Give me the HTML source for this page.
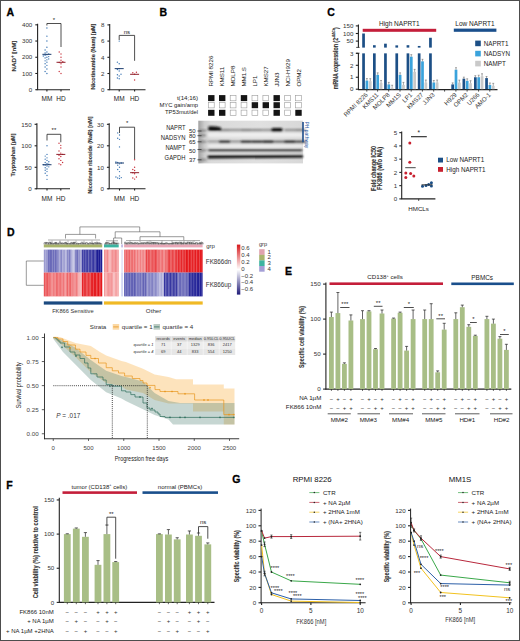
<!DOCTYPE html>
<html><head><meta charset="utf-8"><style>
html,body{margin:0;padding:0;background:#fff;}
svg{display:block;}
text{font-family:"Liberation Sans", sans-serif;}
</style></head><body>
<svg width="520" height="641" viewBox="0 0 520 641">
<rect x="0" y="0" width="520" height="641" fill="#fff"/>
<text x="6.50" y="15.80" font-size="10.5" text-anchor="start" fill="#000" font-weight="bold" stroke="#000" stroke-width="0.3">A</text>
<line x1="37.60" y1="23.82" x2="37.60" y2="89.70" stroke="#222" stroke-width="1.1"/>
<line x1="35.30" y1="89.70" x2="37.60" y2="89.70" stroke="#222" stroke-width="1.1"/>
<text x="32.30" y="91.90" font-size="6.2" text-anchor="end" fill="#333">0</text>
<line x1="35.30" y1="73.48" x2="37.60" y2="73.48" stroke="#222" stroke-width="1.1"/>
<text x="32.30" y="75.68" font-size="6.2" text-anchor="end" fill="#333">100</text>
<line x1="35.30" y1="57.26" x2="37.60" y2="57.26" stroke="#222" stroke-width="1.1"/>
<text x="32.30" y="59.46" font-size="6.2" text-anchor="end" fill="#333">200</text>
<line x1="35.30" y1="41.04" x2="37.60" y2="41.04" stroke="#222" stroke-width="1.1"/>
<text x="32.30" y="43.24" font-size="6.2" text-anchor="end" fill="#333">300</text>
<line x1="35.30" y1="24.82" x2="37.60" y2="24.82" stroke="#222" stroke-width="1.1"/>
<text x="32.30" y="27.02" font-size="6.2" text-anchor="end" fill="#333">400</text>
<line x1="36.60" y1="89.70" x2="70.00" y2="89.70" stroke="#222" stroke-width="1.1"/>
<line x1="46.90" y1="89.70" x2="46.90" y2="91.50" stroke="#222" stroke-width="1.1"/>
<line x1="61.00" y1="89.70" x2="61.00" y2="91.50" stroke="#222" stroke-width="1.1"/>
<text x="46.90" y="101.10" font-size="6.5" text-anchor="middle" fill="#222">MM</text>
<text x="61.00" y="101.10" font-size="6.5" text-anchor="middle" fill="#222">HD</text>
<circle cx="46.90" cy="73.48" r="0.7" fill="#3f78b5"/>
<circle cx="45.10" cy="71.53" r="0.7" fill="#3f78b5"/>
<circle cx="46.90" cy="68.94" r="0.7" fill="#3f78b5"/>
<circle cx="45.10" cy="66.99" r="0.7" fill="#3f78b5"/>
<circle cx="46.90" cy="65.37" r="0.7" fill="#3f78b5"/>
<circle cx="45.10" cy="63.75" r="0.7" fill="#3f78b5"/>
<circle cx="46.90" cy="62.13" r="0.7" fill="#3f78b5"/>
<circle cx="45.10" cy="60.83" r="0.7" fill="#3f78b5"/>
<circle cx="46.90" cy="59.86" r="0.7" fill="#3f78b5"/>
<circle cx="48.70" cy="58.88" r="0.7" fill="#3f78b5"/>
<circle cx="45.10" cy="57.91" r="0.7" fill="#3f78b5"/>
<circle cx="46.90" cy="57.26" r="0.7" fill="#3f78b5"/>
<circle cx="48.70" cy="56.61" r="0.7" fill="#3f78b5"/>
<circle cx="43.30" cy="55.96" r="0.7" fill="#3f78b5"/>
<circle cx="45.10" cy="55.31" r="0.7" fill="#3f78b5"/>
<circle cx="46.90" cy="54.66" r="0.7" fill="#3f78b5"/>
<circle cx="48.70" cy="53.85" r="0.7" fill="#3f78b5"/>
<circle cx="45.10" cy="53.04" r="0.7" fill="#3f78b5"/>
<circle cx="46.90" cy="52.07" r="0.7" fill="#3f78b5"/>
<circle cx="45.10" cy="49.96" r="0.7" fill="#3f78b5"/>
<circle cx="46.90" cy="47.20" r="0.7" fill="#3f78b5"/>
<circle cx="46.90" cy="41.04" r="0.7" fill="#3f78b5"/>
<circle cx="46.90" cy="36.17" r="0.7" fill="#3f78b5"/>
<circle cx="46.90" cy="28.06" r="0.7" fill="#3f78b5"/>
<circle cx="61.00" cy="73.48" r="0.7" fill="#c8323c"/>
<circle cx="59.20" cy="71.53" r="0.7" fill="#c8323c"/>
<circle cx="61.00" cy="66.99" r="0.7" fill="#c8323c"/>
<circle cx="61.00" cy="63.75" r="0.7" fill="#c8323c"/>
<circle cx="59.20" cy="62.45" r="0.7" fill="#c8323c"/>
<circle cx="62.80" cy="61.80" r="0.7" fill="#c8323c"/>
<circle cx="61.00" cy="60.18" r="0.7" fill="#c8323c"/>
<circle cx="61.00" cy="57.26" r="0.7" fill="#c8323c"/>
<circle cx="61.00" cy="54.02" r="0.7" fill="#c8323c"/>
<circle cx="59.20" cy="52.07" r="0.7" fill="#c8323c"/>
<line x1="42.40" y1="54.34" x2="51.40" y2="54.34" stroke="#1b3c6e" stroke-width="1.0"/>
<line x1="56.50" y1="62.29" x2="65.50" y2="62.29" stroke="#8e1d2a" stroke-width="1.0"/>
<polyline points="46.90,25.50 46.90,23.50 61.00,23.50 61.00,47.00" stroke="#222" stroke-width="0.8" fill="none"/>
<text x="53.95" y="21.50" font-size="6" text-anchor="middle" fill="#222">*</text>
<text x="15.90" y="56.00" font-size="6.2" text-anchor="middle" fill="#333" font-weight="bold" transform="rotate(-90 15.9 56)" stroke="#333" stroke-width="0.12">NAD<tspan font-size="4.5" dy="-2">+</tspan><tspan dy="2"> [nM]</tspan></text>
<line x1="109.70" y1="23.90" x2="109.70" y2="89.70" stroke="#222" stroke-width="1.1"/>
<line x1="107.40" y1="89.70" x2="109.70" y2="89.70" stroke="#222" stroke-width="1.1"/>
<text x="104.40" y="91.90" font-size="6.2" text-anchor="end" fill="#333">0</text>
<line x1="107.40" y1="73.50" x2="109.70" y2="73.50" stroke="#222" stroke-width="1.1"/>
<text x="104.40" y="75.70" font-size="6.2" text-anchor="end" fill="#333">2</text>
<line x1="107.40" y1="57.30" x2="109.70" y2="57.30" stroke="#222" stroke-width="1.1"/>
<text x="104.40" y="59.50" font-size="6.2" text-anchor="end" fill="#333">4</text>
<line x1="107.40" y1="41.10" x2="109.70" y2="41.10" stroke="#222" stroke-width="1.1"/>
<text x="104.40" y="43.30" font-size="6.2" text-anchor="end" fill="#333">6</text>
<line x1="107.40" y1="24.90" x2="109.70" y2="24.90" stroke="#222" stroke-width="1.1"/>
<text x="104.40" y="27.10" font-size="6.2" text-anchor="end" fill="#333">8</text>
<line x1="108.70" y1="89.70" x2="145.50" y2="89.70" stroke="#222" stroke-width="1.1"/>
<line x1="119.20" y1="89.70" x2="119.20" y2="91.50" stroke="#222" stroke-width="1.1"/>
<line x1="134.60" y1="89.70" x2="134.60" y2="91.50" stroke="#222" stroke-width="1.1"/>
<text x="119.20" y="101.10" font-size="6.5" text-anchor="middle" fill="#222">MM</text>
<text x="134.60" y="101.10" font-size="6.5" text-anchor="middle" fill="#222">HD</text>
<circle cx="119.20" cy="78.77" r="0.7" fill="#3f78b5"/>
<circle cx="117.40" cy="77.95" r="0.7" fill="#3f78b5"/>
<circle cx="119.20" cy="75.93" r="0.7" fill="#3f78b5"/>
<circle cx="117.40" cy="74.72" r="0.7" fill="#3f78b5"/>
<circle cx="121.00" cy="74.31" r="0.7" fill="#3f78b5"/>
<circle cx="119.20" cy="71.07" r="0.7" fill="#3f78b5"/>
<circle cx="117.40" cy="69.45" r="0.7" fill="#3f78b5"/>
<circle cx="119.20" cy="68.64" r="0.7" fill="#3f78b5"/>
<circle cx="119.20" cy="63.78" r="0.7" fill="#3f78b5"/>
<circle cx="117.40" cy="62.16" r="0.7" fill="#3f78b5"/>
<circle cx="119.20" cy="41.10" r="0.7" fill="#3f78b5"/>
<circle cx="134.60" cy="79.98" r="0.7" fill="#c8323c"/>
<circle cx="134.60" cy="74.31" r="0.7" fill="#c8323c"/>
<circle cx="132.80" cy="72.69" r="0.7" fill="#c8323c"/>
<circle cx="136.40" cy="72.28" r="0.7" fill="#c8323c"/>
<line x1="114.70" y1="68.64" x2="123.70" y2="68.64" stroke="#1b3c6e" stroke-width="1.0"/>
<line x1="130.10" y1="74.31" x2="139.10" y2="74.31" stroke="#8e1d2a" stroke-width="1.0"/>
<polyline points="119.20,40.00 119.20,35.40 134.60,35.40 134.60,60.80" stroke="#222" stroke-width="0.8" fill="none"/>
<text x="126.90" y="33.60" font-size="6" text-anchor="middle" fill="#222">ns</text>
<text x="94.70" y="56.50" font-size="6.2" text-anchor="middle" fill="#333" font-weight="bold" transform="rotate(-90 94.7 56.5)" textLength="66" lengthAdjust="spacingAndGlyphs" stroke="#333" stroke-width="0.12">Nicotinamide (Nam) [µM]</text>
<line x1="36.90" y1="123.30" x2="36.90" y2="188.80" stroke="#222" stroke-width="1.1"/>
<line x1="34.60" y1="188.80" x2="36.90" y2="188.80" stroke="#222" stroke-width="1.1"/>
<text x="31.60" y="191.00" font-size="6.2" text-anchor="end" fill="#333">0</text>
<line x1="34.60" y1="167.30" x2="36.90" y2="167.30" stroke="#222" stroke-width="1.1"/>
<text x="31.60" y="169.50" font-size="6.2" text-anchor="end" fill="#333">50</text>
<line x1="34.60" y1="145.80" x2="36.90" y2="145.80" stroke="#222" stroke-width="1.1"/>
<text x="31.60" y="148.00" font-size="6.2" text-anchor="end" fill="#333">100</text>
<line x1="34.60" y1="124.30" x2="36.90" y2="124.30" stroke="#222" stroke-width="1.1"/>
<text x="31.60" y="126.50" font-size="6.2" text-anchor="end" fill="#333">150</text>
<line x1="35.90" y1="188.80" x2="70.00" y2="188.80" stroke="#222" stroke-width="1.1"/>
<line x1="47.00" y1="188.80" x2="47.00" y2="190.60" stroke="#222" stroke-width="1.1"/>
<line x1="60.80" y1="188.80" x2="60.80" y2="190.60" stroke="#222" stroke-width="1.1"/>
<text x="47.00" y="200.50" font-size="6.5" text-anchor="middle" fill="#222">MM</text>
<text x="60.80" y="200.50" font-size="6.5" text-anchor="middle" fill="#222">HD</text>
<circle cx="47.00" cy="179.34" r="0.7" fill="#3f78b5"/>
<circle cx="47.00" cy="175.47" r="0.7" fill="#3f78b5"/>
<circle cx="45.20" cy="173.32" r="0.7" fill="#3f78b5"/>
<circle cx="47.00" cy="171.60" r="0.7" fill="#3f78b5"/>
<circle cx="45.20" cy="170.31" r="0.7" fill="#3f78b5"/>
<circle cx="47.00" cy="169.02" r="0.7" fill="#3f78b5"/>
<circle cx="45.20" cy="167.73" r="0.7" fill="#3f78b5"/>
<circle cx="48.80" cy="166.87" r="0.7" fill="#3f78b5"/>
<circle cx="47.00" cy="166.01" r="0.7" fill="#3f78b5"/>
<circle cx="45.20" cy="165.15" r="0.7" fill="#3f78b5"/>
<circle cx="43.40" cy="164.72" r="0.7" fill="#3f78b5"/>
<circle cx="48.80" cy="164.29" r="0.7" fill="#3f78b5"/>
<circle cx="47.00" cy="163.43" r="0.7" fill="#3f78b5"/>
<circle cx="45.20" cy="162.57" r="0.7" fill="#3f78b5"/>
<circle cx="48.80" cy="161.71" r="0.7" fill="#3f78b5"/>
<circle cx="47.00" cy="160.42" r="0.7" fill="#3f78b5"/>
<circle cx="45.20" cy="159.13" r="0.7" fill="#3f78b5"/>
<circle cx="47.00" cy="157.84" r="0.7" fill="#3f78b5"/>
<circle cx="45.20" cy="156.12" r="0.7" fill="#3f78b5"/>
<circle cx="47.00" cy="154.40" r="0.7" fill="#3f78b5"/>
<circle cx="47.00" cy="145.80" r="0.7" fill="#3f78b5"/>
<circle cx="60.80" cy="164.72" r="0.7" fill="#c8323c"/>
<circle cx="59.00" cy="163.86" r="0.7" fill="#c8323c"/>
<circle cx="62.60" cy="162.57" r="0.7" fill="#c8323c"/>
<circle cx="60.80" cy="160.42" r="0.7" fill="#c8323c"/>
<circle cx="59.00" cy="158.70" r="0.7" fill="#c8323c"/>
<circle cx="60.80" cy="156.55" r="0.7" fill="#c8323c"/>
<circle cx="59.00" cy="155.26" r="0.7" fill="#c8323c"/>
<circle cx="62.60" cy="154.40" r="0.7" fill="#c8323c"/>
<circle cx="60.80" cy="153.11" r="0.7" fill="#c8323c"/>
<circle cx="59.00" cy="150.96" r="0.7" fill="#c8323c"/>
<circle cx="60.80" cy="147.95" r="0.7" fill="#c8323c"/>
<circle cx="60.80" cy="145.37" r="0.7" fill="#c8323c"/>
<circle cx="59.00" cy="143.22" r="0.7" fill="#c8323c"/>
<line x1="42.50" y1="164.72" x2="51.50" y2="164.72" stroke="#1b3c6e" stroke-width="1.0"/>
<line x1="56.30" y1="154.40" x2="65.30" y2="154.40" stroke="#8e1d2a" stroke-width="1.0"/>
<polyline points="47.00,140.50 47.00,134.30 60.80,134.30 60.80,142.30" stroke="#222" stroke-width="0.8" fill="none"/>
<text x="53.90" y="131.60" font-size="6" text-anchor="middle" fill="#222">**</text>
<text x="15.40" y="155.00" font-size="6.2" text-anchor="middle" fill="#333" font-weight="bold" transform="rotate(-90 15.4 155)" textLength="43" lengthAdjust="spacingAndGlyphs" stroke="#333" stroke-width="0.12">Tryptophan [µM]</text>
<line x1="109.20" y1="123.30" x2="109.20" y2="188.80" stroke="#222" stroke-width="1.1"/>
<line x1="106.90" y1="188.80" x2="109.20" y2="188.80" stroke="#222" stroke-width="1.1"/>
<text x="103.90" y="191.00" font-size="6.2" text-anchor="end" fill="#333">0</text>
<line x1="106.90" y1="167.30" x2="109.20" y2="167.30" stroke="#222" stroke-width="1.1"/>
<text x="103.90" y="169.50" font-size="6.2" text-anchor="end" fill="#333">10</text>
<line x1="106.90" y1="145.80" x2="109.20" y2="145.80" stroke="#222" stroke-width="1.1"/>
<text x="103.90" y="148.00" font-size="6.2" text-anchor="end" fill="#333">20</text>
<line x1="106.90" y1="124.30" x2="109.20" y2="124.30" stroke="#222" stroke-width="1.1"/>
<text x="103.90" y="126.50" font-size="6.2" text-anchor="end" fill="#333">30</text>
<line x1="108.20" y1="188.80" x2="145.50" y2="188.80" stroke="#222" stroke-width="1.1"/>
<line x1="119.50" y1="188.80" x2="119.50" y2="190.60" stroke="#222" stroke-width="1.1"/>
<line x1="134.60" y1="188.80" x2="134.60" y2="190.60" stroke="#222" stroke-width="1.1"/>
<text x="119.50" y="200.50" font-size="6.5" text-anchor="middle" fill="#222">MM</text>
<text x="134.60" y="200.50" font-size="6.5" text-anchor="middle" fill="#222">HD</text>
<circle cx="119.50" cy="178.48" r="0.7" fill="#3f78b5"/>
<circle cx="117.70" cy="178.05" r="0.7" fill="#3f78b5"/>
<circle cx="121.30" cy="177.62" r="0.7" fill="#3f78b5"/>
<circle cx="115.90" cy="176.98" r="0.7" fill="#3f78b5"/>
<circle cx="119.50" cy="175.90" r="0.7" fill="#3f78b5"/>
<circle cx="119.50" cy="171.60" r="0.7" fill="#3f78b5"/>
<circle cx="117.70" cy="169.45" r="0.7" fill="#3f78b5"/>
<circle cx="119.50" cy="167.30" r="0.7" fill="#3f78b5"/>
<circle cx="117.70" cy="165.15" r="0.7" fill="#3f78b5"/>
<circle cx="119.50" cy="163.86" r="0.7" fill="#3f78b5"/>
<circle cx="121.30" cy="163.00" r="0.7" fill="#3f78b5"/>
<circle cx="117.70" cy="162.57" r="0.7" fill="#3f78b5"/>
<circle cx="115.90" cy="161.93" r="0.7" fill="#3f78b5"/>
<circle cx="119.50" cy="146.88" r="0.7" fill="#3f78b5"/>
<circle cx="119.50" cy="139.35" r="0.7" fill="#3f78b5"/>
<circle cx="117.70" cy="138.28" r="0.7" fill="#3f78b5"/>
<circle cx="119.50" cy="135.05" r="0.7" fill="#3f78b5"/>
<circle cx="117.70" cy="132.90" r="0.7" fill="#3f78b5"/>
<circle cx="134.60" cy="179.12" r="0.7" fill="#c8323c"/>
<circle cx="132.80" cy="178.05" r="0.7" fill="#c8323c"/>
<circle cx="136.40" cy="176.98" r="0.7" fill="#c8323c"/>
<circle cx="134.60" cy="173.75" r="0.7" fill="#c8323c"/>
<circle cx="132.80" cy="172.68" r="0.7" fill="#c8323c"/>
<circle cx="134.60" cy="170.53" r="0.7" fill="#c8323c"/>
<circle cx="132.80" cy="169.45" r="0.7" fill="#c8323c"/>
<circle cx="134.60" cy="167.30" r="0.7" fill="#c8323c"/>
<circle cx="134.60" cy="159.78" r="0.7" fill="#c8323c"/>
<line x1="115.00" y1="163.00" x2="124.00" y2="163.00" stroke="#1b3c6e" stroke-width="1.0"/>
<line x1="130.10" y1="172.68" x2="139.10" y2="172.68" stroke="#8e1d2a" stroke-width="1.0"/>
<polyline points="119.50,133.00 119.50,127.20 134.60,127.20 134.60,159.00" stroke="#222" stroke-width="0.8" fill="none"/>
<text x="127.05" y="124.60" font-size="6" text-anchor="middle" fill="#222">*</text>
<text x="92.10" y="155.00" font-size="6.2" text-anchor="middle" fill="#333" font-weight="bold" transform="rotate(-90 92.10000000000001 155)" textLength="77" lengthAdjust="spacingAndGlyphs" stroke="#333" stroke-width="0.12">Nicotinate riboside (NaR) [nM]</text>
<text x="159.60" y="16.20" font-size="10.5" text-anchor="start" fill="#000" font-weight="bold" stroke="#000" stroke-width="0.3">B</text>
<text x="213.40" y="86.60" font-size="6.2" text-anchor="start" fill="#222" transform="rotate(-90 213.39999999999998 86.6)">RPMI 8226</text>
<text x="224.30" y="86.60" font-size="6.2" text-anchor="start" fill="#222" transform="rotate(-90 224.29999999999998 86.6)">KMS11</text>
<text x="235.20" y="86.60" font-size="6.2" text-anchor="start" fill="#222" transform="rotate(-90 235.2 86.6)">MOLP8</text>
<text x="246.10" y="86.60" font-size="6.2" text-anchor="start" fill="#222" transform="rotate(-90 246.1 86.6)">MM1.S</text>
<text x="257.00" y="86.60" font-size="6.2" text-anchor="start" fill="#222" transform="rotate(-90 257.0 86.6)">LP1</text>
<text x="267.90" y="86.60" font-size="6.2" text-anchor="start" fill="#222" transform="rotate(-90 267.90000000000003 86.6)">KMS27</text>
<text x="278.80" y="86.60" font-size="6.2" text-anchor="start" fill="#222" transform="rotate(-90 278.8 86.6)">JJN3</text>
<text x="289.70" y="86.60" font-size="6.2" text-anchor="start" fill="#222" transform="rotate(-90 289.7 86.6)">NCI-H929</text>
<text x="300.60" y="86.60" font-size="6.2" text-anchor="start" fill="#222" transform="rotate(-90 300.6 86.6)">OPM2</text>
<text x="198.10" y="100.00" font-size="6.2" text-anchor="end" fill="#222" textLength="21.2" lengthAdjust="spacingAndGlyphs">t(14;16)</text>
<rect x="208.10" y="95.10" width="6.40" height="6.00" fill="#151515"/>
<rect x="219.00" y="95.10" width="6.40" height="6.00" fill="#151515"/>
<rect x="230.20" y="95.40" width="5.80" height="5.40" fill="#fff" stroke="#9a9a9a" stroke-width="0.6"/>
<rect x="240.80" y="95.10" width="6.40" height="6.00" fill="#151515"/>
<rect x="252.00" y="95.40" width="5.80" height="5.40" fill="#fff" stroke="#9a9a9a" stroke-width="0.6"/>
<rect x="262.90" y="95.40" width="5.80" height="5.40" fill="#fff" stroke="#9a9a9a" stroke-width="0.6"/>
<rect x="273.50" y="95.10" width="6.40" height="6.00" fill="#151515"/>
<rect x="284.70" y="95.40" width="5.80" height="5.40" fill="#fff" stroke="#9a9a9a" stroke-width="0.6"/>
<rect x="295.60" y="95.40" width="5.80" height="5.40" fill="#fff" stroke="#9a9a9a" stroke-width="0.6"/>
<text x="198.10" y="107.40" font-size="6.2" text-anchor="end" fill="#222" textLength="38.7" lengthAdjust="spacingAndGlyphs">MYC gain/amp</text>
<rect x="208.40" y="102.50" width="5.80" height="5.40" fill="#fff" stroke="#9a9a9a" stroke-width="0.6"/>
<rect x="219.30" y="102.50" width="5.80" height="5.40" fill="#fff" stroke="#9a9a9a" stroke-width="0.6"/>
<rect x="230.20" y="102.50" width="5.80" height="5.40" fill="#fff" stroke="#9a9a9a" stroke-width="0.6"/>
<rect x="241.10" y="102.50" width="5.80" height="5.40" fill="#fff" stroke="#9a9a9a" stroke-width="0.6"/>
<rect x="251.70" y="102.20" width="6.40" height="6.00" fill="#151515"/>
<rect x="262.60" y="102.20" width="6.40" height="6.00" fill="#151515"/>
<rect x="273.50" y="102.20" width="6.40" height="6.00" fill="#151515"/>
<rect x="284.70" y="102.50" width="5.80" height="5.40" fill="#fff" stroke="#9a9a9a" stroke-width="0.6"/>
<rect x="295.60" y="102.50" width="5.80" height="5.40" fill="#fff" stroke="#9a9a9a" stroke-width="0.6"/>
<text x="198.10" y="114.40" font-size="6.2" text-anchor="end" fill="#222" textLength="33.1" lengthAdjust="spacingAndGlyphs">TP53mut/del</text>
<rect x="208.10" y="109.80" width="6.40" height="6.00" fill="#151515"/>
<rect x="219.00" y="109.80" width="6.40" height="6.00" fill="#151515"/>
<rect x="230.20" y="110.10" width="5.80" height="5.40" fill="#fff" stroke="#9a9a9a" stroke-width="0.6"/>
<rect x="241.10" y="110.10" width="5.80" height="5.40" fill="#fff" stroke="#9a9a9a" stroke-width="0.6"/>
<rect x="252.00" y="110.10" width="5.80" height="5.40" fill="#fff" stroke="#9a9a9a" stroke-width="0.6"/>
<rect x="262.90" y="110.10" width="5.80" height="5.40" fill="#fff" stroke="#9a9a9a" stroke-width="0.6"/>
<rect x="273.50" y="109.80" width="6.40" height="6.00" fill="#151515"/>
<rect x="284.70" y="110.10" width="5.80" height="5.40" fill="#fff" stroke="#9a9a9a" stroke-width="0.6"/>
<rect x="295.30" y="109.80" width="6.40" height="6.00" fill="#151515"/>
<defs><linearGradient id="blotbg" x1="0" y1="0" x2="1" y2="0"><stop offset="0" stop-color="#a0a0a0"/><stop offset="0.06" stop-color="#cdcdcd"/><stop offset="0.12" stop-color="#dadada"/><stop offset="0.6" stop-color="#e0e0e0"/><stop offset="1" stop-color="#d8d8d8"/></linearGradient><filter id="bl" x="-5%" y="-30%" width="110%" height="160%"><feGaussianBlur stdDeviation="0.85"/></filter></defs>
<rect x="198.30" y="120.70" width="104.70" height="42.70" fill="url(#blotbg)"/>
<g filter="url(#bl)">
<rect x="207.50" y="132.60" width="95.50" height="4.50" fill="#f2f2f2" opacity="0.8"/>
<rect x="207.50" y="144.60" width="95.50" height="2.60" fill="#f4f4f4" opacity="0.8"/>
<rect x="207.50" y="152.20" width="95.50" height="1.80" fill="#f0f0f0" opacity="0.6"/>
<rect x="199.50" y="130.00" width="7.00" height="1.20" fill="#333" opacity="0.7"/>
<rect x="199.50" y="134.80" width="7.00" height="1.20" fill="#333" opacity="0.7"/>
<rect x="199.50" y="141.20" width="7.00" height="1.20" fill="#333" opacity="0.7"/>
<rect x="199.50" y="149.80" width="7.00" height="1.20" fill="#333" opacity="0.7"/>
<rect x="199.50" y="159.20" width="7.00" height="1.20" fill="#333" opacity="0.7"/>
<rect x="208.30" y="129.20" width="10.80" height="2.40" fill="#1a1a1a" opacity="0.0"/>
<rect x="219.15" y="129.20" width="10.80" height="2.40" fill="#1a1a1a" opacity="0.5"/>
<rect x="230.00" y="129.20" width="10.80" height="2.40" fill="#1a1a1a" opacity="0.45"/>
<rect x="240.85" y="129.20" width="10.80" height="2.40" fill="#1a1a1a" opacity="0.55"/>
<rect x="251.70" y="129.20" width="10.80" height="2.40" fill="#1a1a1a" opacity="0.5"/>
<rect x="262.55" y="129.20" width="10.80" height="2.40" fill="#1a1a1a" opacity="0.45"/>
<rect x="273.40" y="129.20" width="10.80" height="2.40" fill="#1a1a1a" opacity="0.0"/>
<rect x="284.25" y="129.20" width="10.80" height="2.40" fill="#1a1a1a" opacity="0.45"/>
<rect x="295.10" y="129.20" width="10.80" height="2.40" fill="#1a1a1a" opacity="0.5"/>
<path d="M208.3,126.4 Q214,125.8 221,127.6 L221,130.4 Q214,131.2 208.3,130.8 Z" fill="#111"/>
<rect x="271.40" y="128.00" width="11.20" height="4.00" fill="#111" rx="1.6"/>
<rect x="208.30" y="140.50" width="10.80" height="2.80" fill="#1a1a1a" opacity="0.3"/>
<rect x="219.15" y="140.50" width="10.80" height="2.80" fill="#1a1a1a" opacity="0.85"/>
<rect x="230.00" y="140.50" width="10.80" height="2.80" fill="#1a1a1a" opacity="0.35"/>
<rect x="240.85" y="140.50" width="10.80" height="2.80" fill="#1a1a1a" opacity="0.85"/>
<rect x="251.70" y="140.50" width="10.80" height="2.80" fill="#1a1a1a" opacity="0.85"/>
<rect x="262.55" y="140.50" width="10.80" height="2.80" fill="#1a1a1a" opacity="0.95"/>
<rect x="273.40" y="140.50" width="10.80" height="2.80" fill="#1a1a1a" opacity="0.55"/>
<rect x="284.25" y="140.50" width="10.80" height="2.80" fill="#1a1a1a" opacity="0.9"/>
<rect x="295.10" y="140.50" width="10.80" height="2.80" fill="#1a1a1a" opacity="0.7"/>
<rect x="208.30" y="149.10" width="94.00" height="2.80" fill="#141414" opacity="0.85"/>
<path d="M207.8,155.0 L303,154.6 L303,157.8 L207.8,158.5 Z" fill="#0c0c0c" opacity="0.95"/>
</g>
<text x="185.40" y="129.60" font-size="6.4" text-anchor="end" fill="#222" textLength="19.2" lengthAdjust="spacingAndGlyphs">NAPRT</text>
<text x="185.40" y="139.60" font-size="6.4" text-anchor="end" fill="#222" textLength="24.6" lengthAdjust="spacingAndGlyphs">NADSYN</text>
<text x="185.40" y="149.60" font-size="6.4" text-anchor="end" fill="#222" textLength="20.0" lengthAdjust="spacingAndGlyphs">NAMPT</text>
<text x="185.40" y="159.60" font-size="6.4" text-anchor="end" fill="#222" textLength="20.8" lengthAdjust="spacingAndGlyphs">GAPDH</text>
<text x="189.00" y="132.70" font-size="6.0" text-anchor="start" fill="#222">50</text>
<line x1="197.50" y1="131.00" x2="201.50" y2="131.00" stroke="#333" stroke-width="0.8"/>
<text x="189.00" y="138.10" font-size="6.0" text-anchor="start" fill="#222">80</text>
<line x1="197.50" y1="135.70" x2="201.50" y2="135.70" stroke="#333" stroke-width="0.8"/>
<text x="189.00" y="144.30" font-size="6.0" text-anchor="start" fill="#222">65</text>
<line x1="197.50" y1="141.80" x2="201.50" y2="141.80" stroke="#333" stroke-width="0.8"/>
<text x="189.00" y="152.70" font-size="6.0" text-anchor="start" fill="#222">50</text>
<line x1="197.50" y1="149.50" x2="201.50" y2="149.50" stroke="#333" stroke-width="0.8"/>
<text x="189.00" y="161.90" font-size="6.0" text-anchor="start" fill="#222">37</text>
<line x1="197.50" y1="159.80" x2="201.50" y2="159.80" stroke="#333" stroke-width="0.8"/>
<rect x="302.20" y="122.00" width="1.60" height="20.30" fill="#1f4e8c"/>
<text x="305.00" y="121.40" font-size="5.0" text-anchor="start" fill="#3464a8" transform="rotate(90 305.0 121.4)">PH pathway</text>
<text x="327.30" y="15.60" font-size="10.5" text-anchor="start" fill="#000" font-weight="bold" stroke="#000" stroke-width="0.3">C</text>
<line x1="358.40" y1="24.40" x2="358.40" y2="47.40" stroke="#222" stroke-width="1.1"/>
<line x1="358.40" y1="53.00" x2="358.40" y2="89.60" stroke="#222" stroke-width="1.1"/>
<line x1="356.20" y1="47.40" x2="359.60" y2="47.40" stroke="#222" stroke-width="0.8"/>
<line x1="356.20" y1="53.20" x2="359.60" y2="53.20" stroke="#222" stroke-width="0.8"/>
<line x1="355.80" y1="41.10" x2="358.40" y2="41.10" stroke="#222" stroke-width="1.1"/>
<text x="353.40" y="43.30" font-size="6.2" text-anchor="end" fill="#333">50</text>
<line x1="355.80" y1="33.50" x2="358.40" y2="33.50" stroke="#222" stroke-width="1.1"/>
<text x="353.40" y="35.70" font-size="6.2" text-anchor="end" fill="#333">100</text>
<line x1="355.80" y1="25.90" x2="358.40" y2="25.90" stroke="#222" stroke-width="1.1"/>
<text x="353.40" y="28.10" font-size="6.2" text-anchor="end" fill="#333">150</text>
<line x1="355.80" y1="89.20" x2="358.40" y2="89.20" stroke="#222" stroke-width="1.1"/>
<text x="353.40" y="91.40" font-size="6.2" text-anchor="end" fill="#333">0</text>
<line x1="355.80" y1="77.25" x2="358.40" y2="77.25" stroke="#222" stroke-width="1.1"/>
<text x="353.40" y="79.45" font-size="6.2" text-anchor="end" fill="#333">1</text>
<line x1="355.80" y1="65.30" x2="358.40" y2="65.30" stroke="#222" stroke-width="1.1"/>
<text x="353.40" y="67.50" font-size="6.2" text-anchor="end" fill="#333">2</text>
<line x1="355.80" y1="53.35" x2="358.40" y2="53.35" stroke="#222" stroke-width="1.1"/>
<text x="353.40" y="55.55" font-size="6.2" text-anchor="end" fill="#333">3</text>
<text x="337.60" y="58.30" font-size="6.4" text-anchor="middle" fill="#333" font-weight="bold" transform="rotate(-90 337.6 58.3)" textLength="62" lengthAdjust="spacingAndGlyphs" stroke="#333" stroke-width="0.12">mRNA expression (2<tspan font-size="3.8" dy="-2.2">-ΔΔCt</tspan><tspan dy="2.2">)</tspan></text>
<line x1="358.00" y1="89.60" x2="497.50" y2="89.60" stroke="#222" stroke-width="1.1"/>
<line x1="444.60" y1="89.60" x2="444.60" y2="91.60" stroke="#222" stroke-width="0.8"/>
<rect x="362.20" y="53.35" width="2.70" height="35.85" fill="#1c4f86"/>
<rect x="362.20" y="33.50" width="2.70" height="14.10" fill="#1c4f86"/>
<rect x="365.55" y="80.60" width="2.70" height="8.60" fill="#3aa3dc"/>
<line x1="366.90" y1="78.56" x2="366.90" y2="80.60" stroke="#555" stroke-width="0.5"/>
<line x1="365.95" y1="78.56" x2="367.85" y2="78.56" stroke="#555" stroke-width="0.5"/>
<rect x="368.90" y="81.19" width="2.70" height="8.01" fill="#c9c9c9"/>
<line x1="370.25" y1="78.68" x2="370.25" y2="81.19" stroke="#555" stroke-width="0.5"/>
<line x1="369.30" y1="78.68" x2="371.20" y2="78.68" stroke="#555" stroke-width="0.5"/>
<line x1="366.80" y1="89.60" x2="366.80" y2="91.60" stroke="#222" stroke-width="0.8"/>
<text x="368.20" y="95.20" font-size="6.2" text-anchor="end" fill="#333" transform="rotate(-45 368.2 95.2)">RPMI 8226</text>
<rect x="373.00" y="53.35" width="2.70" height="35.85" fill="#1c4f86"/>
<rect x="373.00" y="45.20" width="2.70" height="2.40" fill="#1c4f86"/>
<rect x="376.35" y="74.86" width="2.70" height="14.34" fill="#3aa3dc"/>
<line x1="377.70" y1="72.83" x2="377.70" y2="74.86" stroke="#555" stroke-width="0.5"/>
<line x1="376.75" y1="72.83" x2="378.65" y2="72.83" stroke="#555" stroke-width="0.5"/>
<rect x="379.70" y="82.99" width="2.70" height="6.21" fill="#c9c9c9"/>
<line x1="381.05" y1="80.47" x2="381.05" y2="82.99" stroke="#555" stroke-width="0.5"/>
<line x1="380.10" y1="80.47" x2="382.00" y2="80.47" stroke="#555" stroke-width="0.5"/>
<line x1="377.60" y1="89.60" x2="377.60" y2="91.60" stroke="#222" stroke-width="0.8"/>
<text x="379.00" y="95.20" font-size="6.2" text-anchor="end" fill="#333" transform="rotate(-45 379.0 95.2)">KMS11</text>
<rect x="384.10" y="53.35" width="2.70" height="35.85" fill="#1c4f86"/>
<rect x="384.10" y="43.68" width="2.70" height="3.92" fill="#1c4f86"/>
<rect x="387.45" y="84.42" width="2.70" height="4.78" fill="#3aa3dc"/>
<line x1="388.80" y1="82.39" x2="388.80" y2="84.42" stroke="#555" stroke-width="0.5"/>
<line x1="387.85" y1="82.39" x2="389.75" y2="82.39" stroke="#555" stroke-width="0.5"/>
<rect x="390.80" y="87.77" width="2.70" height="1.43" fill="#c9c9c9"/>
<line x1="392.15" y1="85.25" x2="392.15" y2="87.77" stroke="#555" stroke-width="0.5"/>
<line x1="391.20" y1="85.25" x2="393.10" y2="85.25" stroke="#555" stroke-width="0.5"/>
<line x1="388.70" y1="89.60" x2="388.70" y2="91.60" stroke="#222" stroke-width="0.8"/>
<text x="390.10" y="95.20" font-size="6.2" text-anchor="end" fill="#333" transform="rotate(-45 390.1 95.2)">MOLP8</text>
<rect x="395.40" y="53.35" width="2.70" height="35.85" fill="#1c4f86"/>
<rect x="395.40" y="45.36" width="2.70" height="2.24" fill="#1c4f86"/>
<rect x="398.75" y="74.86" width="2.70" height="14.34" fill="#3aa3dc"/>
<line x1="400.10" y1="72.83" x2="400.10" y2="74.86" stroke="#555" stroke-width="0.5"/>
<line x1="399.15" y1="72.83" x2="401.05" y2="72.83" stroke="#555" stroke-width="0.5"/>
<rect x="402.10" y="84.90" width="2.70" height="4.30" fill="#c9c9c9"/>
<line x1="403.45" y1="82.39" x2="403.45" y2="84.90" stroke="#555" stroke-width="0.5"/>
<line x1="402.50" y1="82.39" x2="404.40" y2="82.39" stroke="#555" stroke-width="0.5"/>
<line x1="400.00" y1="89.60" x2="400.00" y2="91.60" stroke="#222" stroke-width="0.8"/>
<text x="401.40" y="95.20" font-size="6.2" text-anchor="end" fill="#333" transform="rotate(-45 401.4 95.2)">MM1S</text>
<rect x="406.60" y="53.35" width="2.70" height="35.85" fill="#1c4f86"/>
<rect x="406.60" y="45.20" width="2.70" height="2.40" fill="#1c4f86"/>
<rect x="409.95" y="56.70" width="2.70" height="32.50" fill="#3aa3dc"/>
<line x1="411.30" y1="54.66" x2="411.30" y2="56.70" stroke="#555" stroke-width="0.5"/>
<line x1="410.35" y1="54.66" x2="412.25" y2="54.66" stroke="#555" stroke-width="0.5"/>
<rect x="413.30" y="71.87" width="2.70" height="17.33" fill="#c9c9c9"/>
<line x1="414.65" y1="69.36" x2="414.65" y2="71.87" stroke="#555" stroke-width="0.5"/>
<line x1="413.70" y1="69.36" x2="415.60" y2="69.36" stroke="#555" stroke-width="0.5"/>
<line x1="411.20" y1="89.60" x2="411.20" y2="91.60" stroke="#222" stroke-width="0.8"/>
<text x="412.60" y="95.20" font-size="6.2" text-anchor="end" fill="#333" transform="rotate(-45 412.6 95.2)">LP1</text>
<rect x="417.80" y="53.35" width="2.70" height="35.85" fill="#1c4f86"/>
<rect x="417.80" y="45.96" width="2.70" height="1.64" fill="#1c4f86"/>
<rect x="421.15" y="61.36" width="2.70" height="27.84" fill="#3aa3dc"/>
<line x1="422.50" y1="59.32" x2="422.50" y2="61.36" stroke="#555" stroke-width="0.5"/>
<line x1="421.55" y1="59.32" x2="423.45" y2="59.32" stroke="#555" stroke-width="0.5"/>
<rect x="424.50" y="82.51" width="2.70" height="6.69" fill="#c9c9c9"/>
<line x1="425.85" y1="80.00" x2="425.85" y2="82.51" stroke="#555" stroke-width="0.5"/>
<line x1="424.90" y1="80.00" x2="426.80" y2="80.00" stroke="#555" stroke-width="0.5"/>
<line x1="422.40" y1="89.60" x2="422.40" y2="91.60" stroke="#222" stroke-width="0.8"/>
<text x="423.80" y="95.20" font-size="6.2" text-anchor="end" fill="#333" transform="rotate(-45 423.8 95.2)">KMS27</text>
<rect x="429.10" y="53.35" width="2.70" height="35.85" fill="#1c4f86"/>
<rect x="429.10" y="37.76" width="2.70" height="9.84" fill="#1c4f86"/>
<rect x="432.45" y="82.51" width="2.70" height="6.69" fill="#3aa3dc"/>
<line x1="433.80" y1="80.47" x2="433.80" y2="82.51" stroke="#555" stroke-width="0.5"/>
<line x1="432.85" y1="80.47" x2="434.75" y2="80.47" stroke="#555" stroke-width="0.5"/>
<rect x="435.80" y="82.51" width="2.70" height="6.69" fill="#c9c9c9"/>
<line x1="437.15" y1="80.00" x2="437.15" y2="82.51" stroke="#555" stroke-width="0.5"/>
<line x1="436.20" y1="80.00" x2="438.10" y2="80.00" stroke="#555" stroke-width="0.5"/>
<line x1="433.70" y1="89.60" x2="433.70" y2="91.60" stroke="#222" stroke-width="0.8"/>
<text x="435.10" y="95.20" font-size="6.2" text-anchor="end" fill="#333" transform="rotate(-45 435.1 95.2)">JJN3</text>
<rect x="451.30" y="84.42" width="2.70" height="4.78" fill="#1c4f86"/>
<line x1="452.65" y1="82.86" x2="452.65" y2="84.42" stroke="#555" stroke-width="0.5"/>
<line x1="451.70" y1="82.86" x2="453.60" y2="82.86" stroke="#555" stroke-width="0.5"/>
<rect x="454.65" y="69.72" width="2.70" height="19.48" fill="#3aa3dc"/>
<line x1="456.00" y1="67.69" x2="456.00" y2="69.72" stroke="#555" stroke-width="0.5"/>
<line x1="455.05" y1="67.69" x2="456.95" y2="67.69" stroke="#555" stroke-width="0.5"/>
<rect x="458.00" y="82.63" width="2.70" height="6.57" fill="#c9c9c9"/>
<line x1="459.35" y1="80.12" x2="459.35" y2="82.63" stroke="#555" stroke-width="0.5"/>
<line x1="458.40" y1="80.12" x2="460.30" y2="80.12" stroke="#555" stroke-width="0.5"/>
<line x1="455.90" y1="89.60" x2="455.90" y2="91.60" stroke="#222" stroke-width="0.8"/>
<text x="457.30" y="95.20" font-size="6.2" text-anchor="end" fill="#333" transform="rotate(-45 457.3 95.2)">H929</text>
<rect x="462.50" y="78.68" width="2.70" height="10.52" fill="#1c4f86"/>
<line x1="463.85" y1="77.13" x2="463.85" y2="78.68" stroke="#555" stroke-width="0.5"/>
<line x1="462.90" y1="77.13" x2="464.80" y2="77.13" stroke="#555" stroke-width="0.5"/>
<rect x="465.85" y="80.84" width="2.70" height="8.36" fill="#3aa3dc"/>
<line x1="467.20" y1="78.80" x2="467.20" y2="80.84" stroke="#555" stroke-width="0.5"/>
<line x1="466.25" y1="78.80" x2="468.15" y2="78.80" stroke="#555" stroke-width="0.5"/>
<rect x="469.20" y="83.23" width="2.70" height="5.97" fill="#c9c9c9"/>
<line x1="470.55" y1="80.71" x2="470.55" y2="83.23" stroke="#555" stroke-width="0.5"/>
<line x1="469.60" y1="80.71" x2="471.50" y2="80.71" stroke="#555" stroke-width="0.5"/>
<line x1="467.10" y1="89.60" x2="467.10" y2="91.60" stroke="#222" stroke-width="0.8"/>
<text x="468.50" y="95.20" font-size="6.2" text-anchor="end" fill="#333" transform="rotate(-45 468.5 95.2)">OPM2</text>
<rect x="474.00" y="77.25" width="2.70" height="11.95" fill="#1c4f86"/>
<line x1="475.35" y1="75.69" x2="475.35" y2="77.25" stroke="#555" stroke-width="0.5"/>
<line x1="474.40" y1="75.69" x2="476.30" y2="75.69" stroke="#555" stroke-width="0.5"/>
<rect x="477.35" y="77.25" width="2.70" height="11.95" fill="#3aa3dc"/>
<line x1="478.70" y1="75.22" x2="478.70" y2="77.25" stroke="#555" stroke-width="0.5"/>
<line x1="477.75" y1="75.22" x2="479.65" y2="75.22" stroke="#555" stroke-width="0.5"/>
<rect x="480.70" y="76.29" width="2.70" height="12.91" fill="#c9c9c9"/>
<line x1="482.05" y1="73.78" x2="482.05" y2="76.29" stroke="#555" stroke-width="0.5"/>
<line x1="481.10" y1="73.78" x2="483.00" y2="73.78" stroke="#555" stroke-width="0.5"/>
<line x1="478.60" y1="89.60" x2="478.60" y2="91.60" stroke="#222" stroke-width="0.8"/>
<text x="480.00" y="95.20" font-size="6.2" text-anchor="end" fill="#333" transform="rotate(-45 480.0 95.2)">U266</text>
<rect x="485.20" y="78.09" width="2.70" height="11.11" fill="#1c4f86"/>
<line x1="486.55" y1="76.53" x2="486.55" y2="78.09" stroke="#555" stroke-width="0.5"/>
<line x1="485.60" y1="76.53" x2="487.50" y2="76.53" stroke="#555" stroke-width="0.5"/>
<rect x="488.55" y="85.02" width="2.70" height="4.18" fill="#3aa3dc"/>
<line x1="489.90" y1="82.98" x2="489.90" y2="85.02" stroke="#555" stroke-width="0.5"/>
<line x1="488.95" y1="82.98" x2="490.85" y2="82.98" stroke="#555" stroke-width="0.5"/>
<rect x="491.90" y="85.85" width="2.70" height="3.35" fill="#c9c9c9"/>
<line x1="493.25" y1="83.34" x2="493.25" y2="85.85" stroke="#555" stroke-width="0.5"/>
<line x1="492.30" y1="83.34" x2="494.20" y2="83.34" stroke="#555" stroke-width="0.5"/>
<line x1="489.80" y1="89.60" x2="489.80" y2="91.60" stroke="#222" stroke-width="0.8"/>
<text x="491.20" y="95.20" font-size="6.2" text-anchor="end" fill="#333" transform="rotate(-45 491.2 95.2)">AMO-1</text>
<rect x="362.70" y="28.80" width="73.50" height="3.00" fill="#c41e3a"/>
<rect x="453.80" y="28.60" width="42.60" height="3.20" fill="#1a4f8c"/>
<text x="399.30" y="25.80" font-size="6.5" text-anchor="middle" fill="#222">High NAPRT1</text>
<text x="475.00" y="25.80" font-size="6.5" text-anchor="middle" fill="#222">Low NAPRT1</text>
<rect x="475.20" y="40.60" width="5.60" height="5.60" fill="#1c4f86"/>
<text x="483.70" y="45.60" font-size="6.3" text-anchor="start" fill="#222">NAPRT1</text>
<rect x="475.20" y="50.80" width="5.60" height="5.60" fill="#3aa3dc"/>
<text x="483.70" y="55.80" font-size="6.3" text-anchor="start" fill="#222">NADSYN</text>
<rect x="475.20" y="60.80" width="5.60" height="5.60" fill="#c9c9c9"/>
<text x="483.70" y="65.80" font-size="6.3" text-anchor="start" fill="#222">NAMPT</text>
<line x1="401.70" y1="131.50" x2="401.70" y2="198.90" stroke="#222" stroke-width="1.1"/>
<line x1="399.30" y1="198.90" x2="401.70" y2="198.90" stroke="#222" stroke-width="1.1"/>
<text x="397.10" y="201.10" font-size="6.2" text-anchor="end" fill="#333">0</text>
<line x1="399.30" y1="185.65" x2="401.70" y2="185.65" stroke="#222" stroke-width="1.1"/>
<text x="397.10" y="187.85" font-size="6.2" text-anchor="end" fill="#333">1</text>
<line x1="399.30" y1="172.40" x2="401.70" y2="172.40" stroke="#222" stroke-width="1.1"/>
<text x="397.10" y="174.60" font-size="6.2" text-anchor="end" fill="#333">2</text>
<line x1="399.30" y1="159.15" x2="401.70" y2="159.15" stroke="#222" stroke-width="1.1"/>
<text x="397.10" y="161.35" font-size="6.2" text-anchor="end" fill="#333">3</text>
<line x1="399.30" y1="145.90" x2="401.70" y2="145.90" stroke="#222" stroke-width="1.1"/>
<text x="397.10" y="148.10" font-size="6.2" text-anchor="end" fill="#333">4</text>
<line x1="399.30" y1="132.65" x2="401.70" y2="132.65" stroke="#222" stroke-width="1.1"/>
<text x="397.10" y="134.85" font-size="6.2" text-anchor="end" fill="#333">5</text>
<line x1="401.30" y1="198.90" x2="435.40" y2="198.90" stroke="#222" stroke-width="1.1"/>
<line x1="418.70" y1="198.90" x2="418.70" y2="200.90" stroke="#222" stroke-width="0.8"/>
<text x="418.60" y="210.60" font-size="6.2" text-anchor="middle" fill="#222">HMCLs</text>
<text x="376.00" y="168.40" font-size="6.4" text-anchor="middle" fill="#333" font-weight="bold" transform="rotate(-90 376.0 168.4)" textLength="45" lengthAdjust="spacingAndGlyphs" stroke="#333" stroke-width="0.12">Fold change IC50</text>
<text x="382.40" y="168.40" font-size="6.4" text-anchor="middle" fill="#333" font-weight="bold" transform="rotate(-90 382.4 168.4)" textLength="43" lengthAdjust="spacingAndGlyphs" stroke="#333" stroke-width="0.12">FK866 (w/o NA)</text>
<line x1="411.00" y1="136.70" x2="426.80" y2="136.70" stroke="#222" stroke-width="1.1"/>
<text x="418.80" y="135.00" font-size="6.5" text-anchor="middle" fill="#222">*</text>
<circle cx="409.80" cy="142.90" r="1.5" fill="#c8202f"/>
<circle cx="409.80" cy="162.30" r="1.5" fill="#c8202f"/>
<circle cx="405.80" cy="173.00" r="1.5" fill="#c8202f"/>
<circle cx="410.60" cy="173.60" r="1.5" fill="#c8202f"/>
<circle cx="405.80" cy="177.40" r="1.5" fill="#c8202f"/>
<circle cx="413.80" cy="176.00" r="1.5" fill="#c8202f"/>
<line x1="405.20" y1="167.70" x2="415.70" y2="167.70" stroke="#333" stroke-width="0.9"/>
<circle cx="422.50" cy="186.20" r="1.5" fill="#1c4f86"/>
<circle cx="426.00" cy="185.40" r="1.5" fill="#1c4f86"/>
<circle cx="428.70" cy="184.60" r="1.5" fill="#1c4f86"/>
<circle cx="431.40" cy="182.70" r="1.5" fill="#1c4f86"/>
<circle cx="431.40" cy="186.00" r="1.5" fill="#1c4f86"/>
<line x1="421.50" y1="184.80" x2="432.50" y2="184.80" stroke="#333" stroke-width="0.9"/>
<rect x="438.00" y="157.70" width="5.00" height="4.80" fill="#1c4f86"/>
<text x="446.20" y="162.30" font-size="6.3" text-anchor="start" fill="#222">Low NAPRT1</text>
<rect x="438.00" y="167.00" width="5.00" height="4.80" fill="#c8202f"/>
<text x="446.20" y="171.60" font-size="6.3" text-anchor="start" fill="#222">High NAPRT1</text>
<text x="7.00" y="236.20" font-size="10.5" text-anchor="start" fill="#000" font-weight="bold" stroke="#000" stroke-width="0.3">D</text>
<rect x="43.80" y="244.40" width="58.40" height="3.00" fill="#a9b46a"/>
<rect x="43.80" y="249.60" width="1.91" height="23.00" fill="#9b9bd0"/>
<rect x="45.65" y="249.60" width="1.91" height="23.00" fill="#9d9dd1"/>
<rect x="47.50" y="249.60" width="1.76" height="23.00" fill="#6f6fbb"/>
<rect x="49.20" y="249.60" width="1.76" height="23.00" fill="#6464b6"/>
<rect x="50.90" y="249.60" width="1.81" height="23.00" fill="#6d6dba"/>
<rect x="52.65" y="249.60" width="1.81" height="23.00" fill="#6e6ebb"/>
<rect x="54.40" y="249.60" width="1.76" height="23.00" fill="#6d6dba"/>
<rect x="56.10" y="249.60" width="1.76" height="23.00" fill="#7474be"/>
<rect x="57.80" y="249.60" width="1.63" height="23.00" fill="#9494cd"/>
<rect x="59.37" y="249.60" width="1.63" height="23.00" fill="#9898ce"/>
<rect x="60.93" y="249.60" width="1.63" height="23.00" fill="#8888c7"/>
<rect x="62.50" y="249.60" width="1.56" height="23.00" fill="#a6a6d5"/>
<rect x="64.00" y="249.60" width="1.56" height="23.00" fill="#a2a2d3"/>
<rect x="65.50" y="249.60" width="1.56" height="23.00" fill="#b2b2db"/>
<rect x="67.00" y="249.60" width="1.63" height="23.00" fill="#8a8ac8"/>
<rect x="68.57" y="249.60" width="1.63" height="23.00" fill="#7c7cc1"/>
<rect x="70.13" y="249.60" width="1.63" height="23.00" fill="#9191cb"/>
<rect x="71.70" y="249.60" width="1.76" height="23.00" fill="#c0c0e1"/>
<rect x="73.40" y="249.60" width="1.76" height="23.00" fill="#b9b9de"/>
<rect x="75.10" y="249.60" width="1.81" height="23.00" fill="#7a7ac0"/>
<rect x="76.85" y="249.60" width="1.81" height="23.00" fill="#7070bc"/>
<rect x="78.60" y="249.60" width="1.76" height="23.00" fill="#9191cb"/>
<rect x="80.30" y="249.60" width="1.76" height="23.00" fill="#9d9dd1"/>
<rect x="82.00" y="249.60" width="1.68" height="23.00" fill="#3e3ea4"/>
<rect x="83.62" y="249.60" width="1.68" height="23.00" fill="#4141a6"/>
<rect x="85.24" y="249.60" width="1.68" height="23.00" fill="#4242a6"/>
<rect x="86.86" y="249.60" width="1.68" height="23.00" fill="#3e3ea4"/>
<rect x="88.48" y="249.60" width="1.68" height="23.00" fill="#4747a8"/>
<rect x="90.10" y="249.60" width="1.44" height="23.00" fill="#34349f"/>
<rect x="91.48" y="249.60" width="1.44" height="23.00" fill="#3d3da4"/>
<rect x="92.86" y="249.60" width="1.44" height="23.00" fill="#3636a0"/>
<rect x="94.24" y="249.60" width="1.44" height="23.00" fill="#3939a2"/>
<rect x="95.62" y="249.60" width="1.44" height="23.00" fill="#3636a0"/>
<rect x="97.00" y="249.60" width="1.79" height="23.00" fill="#1c1c94"/>
<rect x="98.73" y="249.60" width="1.79" height="23.00" fill="#1c1c94"/>
<rect x="100.47" y="249.60" width="1.79" height="23.00" fill="#1c1c94"/>
<rect x="43.80" y="272.60" width="1.56" height="23.80" fill="#eb5457"/>
<rect x="45.30" y="272.60" width="1.56" height="23.80" fill="#eb5557"/>
<rect x="46.80" y="272.60" width="1.56" height="23.80" fill="#ec585b"/>
<rect x="48.30" y="272.60" width="1.56" height="23.80" fill="#ec5b5e"/>
<rect x="49.80" y="272.60" width="1.49" height="23.80" fill="#f07b7d"/>
<rect x="51.22" y="272.60" width="1.49" height="23.80" fill="#f07d7f"/>
<rect x="52.65" y="272.60" width="1.49" height="23.80" fill="#f07b7e"/>
<rect x="54.08" y="272.60" width="1.49" height="23.80" fill="#f08082"/>
<rect x="55.50" y="272.60" width="1.49" height="23.80" fill="#ee696b"/>
<rect x="56.92" y="272.60" width="1.49" height="23.80" fill="#ef7174"/>
<rect x="58.35" y="272.60" width="1.49" height="23.80" fill="#ee676a"/>
<rect x="59.78" y="272.60" width="1.49" height="23.80" fill="#ef7274"/>
<rect x="61.20" y="272.60" width="1.51" height="23.80" fill="#ef7476"/>
<rect x="62.65" y="272.60" width="1.51" height="23.80" fill="#ef7679"/>
<rect x="64.10" y="272.60" width="1.51" height="23.80" fill="#f1898b"/>
<rect x="65.55" y="272.60" width="1.51" height="23.80" fill="#f18587"/>
<rect x="67.00" y="272.60" width="1.51" height="23.80" fill="#ed6668"/>
<rect x="68.45" y="272.60" width="1.51" height="23.80" fill="#ef7072"/>
<rect x="69.90" y="272.60" width="1.51" height="23.80" fill="#ed6467"/>
<rect x="71.35" y="272.60" width="1.51" height="23.80" fill="#ef7174"/>
<rect x="72.80" y="272.60" width="1.51" height="23.80" fill="#f28c8e"/>
<rect x="74.25" y="272.60" width="1.51" height="23.80" fill="#f07f81"/>
<rect x="75.70" y="272.60" width="1.51" height="23.80" fill="#f07c7e"/>
<rect x="77.15" y="272.60" width="1.51" height="23.80" fill="#f18789"/>
<rect x="78.60" y="272.60" width="1.76" height="23.80" fill="#f6b5b6"/>
<rect x="80.30" y="272.60" width="1.76" height="23.80" fill="#f6afb1"/>
<rect x="82.00" y="272.60" width="1.49" height="23.80" fill="#e62428"/>
<rect x="83.43" y="272.60" width="1.49" height="23.80" fill="#e6292c"/>
<rect x="84.86" y="272.60" width="1.49" height="23.80" fill="#e8373b"/>
<rect x="86.29" y="272.60" width="1.49" height="23.80" fill="#e83438"/>
<rect x="87.71" y="272.60" width="1.49" height="23.80" fill="#e8383b"/>
<rect x="89.14" y="272.60" width="1.49" height="23.80" fill="#e8393c"/>
<rect x="90.57" y="272.60" width="1.49" height="23.80" fill="#e6282b"/>
<rect x="92.00" y="272.60" width="1.52" height="23.80" fill="#e62327"/>
<rect x="93.46" y="272.60" width="1.52" height="23.80" fill="#e51a1e"/>
<rect x="94.91" y="272.60" width="1.52" height="23.80" fill="#e51d21"/>
<rect x="96.37" y="272.60" width="1.52" height="23.80" fill="#e62326"/>
<rect x="97.83" y="272.60" width="1.52" height="23.80" fill="#e4161a"/>
<rect x="99.29" y="272.60" width="1.52" height="23.80" fill="#e62428"/>
<rect x="100.74" y="272.60" width="1.52" height="23.80" fill="#e4181c"/>
<rect x="104.00" y="244.40" width="14.70" height="3.00" fill="#3cb4a0"/>
<rect x="104.00" y="249.60" width="1.39" height="23.00" fill="#f28e90"/>
<rect x="105.33" y="249.60" width="1.39" height="23.00" fill="#f28a8c"/>
<rect x="106.67" y="249.60" width="1.39" height="23.00" fill="#f28a8c"/>
<rect x="108.00" y="249.60" width="1.39" height="23.00" fill="#f5a8aa"/>
<rect x="109.33" y="249.60" width="1.39" height="23.00" fill="#f5abad"/>
<rect x="110.67" y="249.60" width="1.39" height="23.00" fill="#f4a3a5"/>
<rect x="112.00" y="249.60" width="1.39" height="23.00" fill="#f39294"/>
<rect x="113.33" y="249.60" width="1.39" height="23.00" fill="#f18688"/>
<rect x="114.67" y="249.60" width="1.39" height="23.00" fill="#f1898b"/>
<rect x="116.00" y="249.60" width="1.41" height="23.00" fill="#f39698"/>
<rect x="117.35" y="249.60" width="1.41" height="23.00" fill="#f39799"/>
<rect x="104.00" y="272.60" width="1.39" height="23.80" fill="#f3999b"/>
<rect x="105.33" y="272.60" width="1.39" height="23.80" fill="#f5a5a6"/>
<rect x="106.67" y="272.60" width="1.39" height="23.80" fill="#f49e9f"/>
<rect x="108.00" y="272.60" width="1.39" height="23.80" fill="#f39597"/>
<rect x="109.33" y="272.60" width="1.39" height="23.80" fill="#f18486"/>
<rect x="110.67" y="272.60" width="1.39" height="23.80" fill="#f39799"/>
<rect x="112.00" y="272.60" width="1.39" height="23.80" fill="#f5a4a6"/>
<rect x="113.33" y="272.60" width="1.39" height="23.80" fill="#f7b5b7"/>
<rect x="114.67" y="272.60" width="1.39" height="23.80" fill="#f5a7a9"/>
<rect x="116.00" y="272.60" width="1.41" height="23.80" fill="#f5a4a5"/>
<rect x="117.35" y="272.60" width="1.41" height="23.80" fill="#f4a2a4"/>
<rect x="121.40" y="244.40" width="1.30" height="3.00" fill="#a8a0d8"/>
<rect x="121.40" y="249.60" width="1.30" height="23.00" fill="#dcdcf2"/>
<rect x="121.40" y="272.60" width="1.30" height="23.80" fill="#c4c8ee"/>
<rect x="124.10" y="244.40" width="78.50" height="3.00" fill="#e9a7b6"/>
<rect x="124.10" y="249.60" width="1.62" height="23.00" fill="#ee6d6f"/>
<rect x="125.66" y="249.60" width="1.62" height="23.00" fill="#ed6366"/>
<rect x="127.21" y="249.60" width="1.62" height="23.00" fill="#ed6366"/>
<rect x="128.77" y="249.60" width="1.62" height="23.00" fill="#ed5f62"/>
<rect x="130.33" y="249.60" width="1.62" height="23.00" fill="#ee6f71"/>
<rect x="131.89" y="249.60" width="1.62" height="23.00" fill="#ee6e70"/>
<rect x="133.44" y="249.60" width="1.62" height="23.00" fill="#ef6f72"/>
<rect x="135.00" y="249.60" width="1.63" height="23.00" fill="#f1888a"/>
<rect x="136.57" y="249.60" width="1.63" height="23.00" fill="#f07d7f"/>
<rect x="138.14" y="249.60" width="1.63" height="23.00" fill="#f28a8c"/>
<rect x="139.71" y="249.60" width="1.63" height="23.00" fill="#f18183"/>
<rect x="141.29" y="249.60" width="1.63" height="23.00" fill="#f1888a"/>
<rect x="142.86" y="249.60" width="1.63" height="23.00" fill="#f18789"/>
<rect x="144.43" y="249.60" width="1.63" height="23.00" fill="#f18386"/>
<rect x="146.00" y="249.60" width="1.51" height="23.00" fill="#ea4548"/>
<rect x="147.45" y="249.60" width="1.51" height="23.00" fill="#ea4a4d"/>
<rect x="148.90" y="249.60" width="1.51" height="23.00" fill="#ec585b"/>
<rect x="150.35" y="249.60" width="1.51" height="23.00" fill="#eb5255"/>
<rect x="151.80" y="249.60" width="1.51" height="23.00" fill="#eb5558"/>
<rect x="153.25" y="249.60" width="1.51" height="23.00" fill="#ea4448"/>
<rect x="154.70" y="249.60" width="1.51" height="23.00" fill="#ea4649"/>
<rect x="156.15" y="249.60" width="1.51" height="23.00" fill="#ea4649"/>
<rect x="157.60" y="249.60" width="1.46" height="23.00" fill="#ee6f72"/>
<rect x="159.00" y="249.60" width="1.46" height="23.00" fill="#ef7173"/>
<rect x="160.40" y="249.60" width="1.46" height="23.00" fill="#ee6c6f"/>
<rect x="161.80" y="249.60" width="1.46" height="23.00" fill="#ef7072"/>
<rect x="163.20" y="249.60" width="1.46" height="23.00" fill="#f07c7e"/>
<rect x="164.60" y="249.60" width="1.46" height="23.00" fill="#ee6f71"/>
<rect x="166.00" y="249.60" width="1.46" height="23.00" fill="#ef7779"/>
<rect x="167.40" y="249.60" width="1.49" height="23.00" fill="#e93c3f"/>
<rect x="168.83" y="249.60" width="1.49" height="23.00" fill="#e94043"/>
<rect x="170.27" y="249.60" width="1.49" height="23.00" fill="#e94346"/>
<rect x="171.70" y="249.60" width="1.49" height="23.00" fill="#ea4548"/>
<rect x="173.13" y="249.60" width="1.49" height="23.00" fill="#e94346"/>
<rect x="174.57" y="249.60" width="1.49" height="23.00" fill="#ea4649"/>
<rect x="176.00" y="249.60" width="1.63" height="23.00" fill="#e83b3e"/>
<rect x="177.57" y="249.60" width="1.63" height="23.00" fill="#e72b2f"/>
<rect x="179.13" y="249.60" width="1.63" height="23.00" fill="#e72c2f"/>
<rect x="180.70" y="249.60" width="1.63" height="23.00" fill="#e6272b"/>
<rect x="182.27" y="249.60" width="1.63" height="23.00" fill="#e72e32"/>
<rect x="183.83" y="249.60" width="1.63" height="23.00" fill="#e73135"/>
<rect x="185.40" y="249.60" width="1.62" height="23.00" fill="#e4161a"/>
<rect x="186.96" y="249.60" width="1.62" height="23.00" fill="#e62428"/>
<rect x="188.53" y="249.60" width="1.62" height="23.00" fill="#e4181b"/>
<rect x="190.09" y="249.60" width="1.62" height="23.00" fill="#e51d21"/>
<rect x="191.65" y="249.60" width="1.62" height="23.00" fill="#e62327"/>
<rect x="193.22" y="249.60" width="1.62" height="23.00" fill="#e62226"/>
<rect x="194.78" y="249.60" width="1.62" height="23.00" fill="#e51b1f"/>
<rect x="196.35" y="249.60" width="1.62" height="23.00" fill="#e62125"/>
<rect x="197.91" y="249.60" width="1.62" height="23.00" fill="#e51d20"/>
<rect x="199.47" y="249.60" width="1.62" height="23.00" fill="#e5191d"/>
<rect x="201.04" y="249.60" width="1.62" height="23.00" fill="#e51e22"/>
<rect x="124.10" y="272.60" width="1.62" height="23.80" fill="#5d5db3"/>
<rect x="125.66" y="272.60" width="1.62" height="23.80" fill="#6565b6"/>
<rect x="127.21" y="272.60" width="1.62" height="23.80" fill="#5f5fb4"/>
<rect x="128.77" y="272.60" width="1.62" height="23.80" fill="#5f5fb4"/>
<rect x="130.33" y="272.60" width="1.62" height="23.80" fill="#5f5fb3"/>
<rect x="131.89" y="272.60" width="1.62" height="23.80" fill="#6262b5"/>
<rect x="133.44" y="272.60" width="1.62" height="23.80" fill="#5c5cb2"/>
<rect x="135.00" y="272.60" width="1.63" height="23.80" fill="#7070bc"/>
<rect x="136.57" y="272.60" width="1.63" height="23.80" fill="#7777bf"/>
<rect x="138.14" y="272.60" width="1.63" height="23.80" fill="#6a6ab9"/>
<rect x="139.71" y="272.60" width="1.63" height="23.80" fill="#7171bc"/>
<rect x="141.29" y="272.60" width="1.63" height="23.80" fill="#7676be"/>
<rect x="142.86" y="272.60" width="1.63" height="23.80" fill="#6363b5"/>
<rect x="144.43" y="272.60" width="1.63" height="23.80" fill="#6565b6"/>
<rect x="146.00" y="272.60" width="1.51" height="23.80" fill="#8989c7"/>
<rect x="147.45" y="272.60" width="1.51" height="23.80" fill="#8a8ac8"/>
<rect x="148.90" y="272.60" width="1.51" height="23.80" fill="#8686c6"/>
<rect x="150.35" y="272.60" width="1.51" height="23.80" fill="#7b7bc1"/>
<rect x="151.80" y="272.60" width="1.51" height="23.80" fill="#8181c3"/>
<rect x="153.25" y="272.60" width="1.51" height="23.80" fill="#8b8bc8"/>
<rect x="154.70" y="272.60" width="1.51" height="23.80" fill="#8b8bc8"/>
<rect x="156.15" y="272.60" width="1.51" height="23.80" fill="#8989c7"/>
<rect x="157.60" y="272.60" width="1.66" height="23.80" fill="#a8a8d6"/>
<rect x="159.20" y="272.60" width="1.66" height="23.80" fill="#b6b6dd"/>
<rect x="160.80" y="272.60" width="1.66" height="23.80" fill="#acacd8"/>
<rect x="162.40" y="272.60" width="1.66" height="23.80" fill="#b3b3db"/>
<rect x="164.00" y="272.60" width="1.50" height="23.80" fill="#3535a0"/>
<rect x="165.44" y="272.60" width="1.50" height="23.80" fill="#4747a8"/>
<rect x="166.89" y="272.60" width="1.50" height="23.80" fill="#3f3fa5"/>
<rect x="168.33" y="272.60" width="1.50" height="23.80" fill="#4242a6"/>
<rect x="169.78" y="272.60" width="1.50" height="23.80" fill="#3737a1"/>
<rect x="171.22" y="272.60" width="1.50" height="23.80" fill="#4040a5"/>
<rect x="172.67" y="272.60" width="1.50" height="23.80" fill="#3f3fa4"/>
<rect x="174.11" y="272.60" width="1.50" height="23.80" fill="#3f3fa4"/>
<rect x="175.56" y="272.60" width="1.50" height="23.80" fill="#3a3aa2"/>
<rect x="177.00" y="272.60" width="1.51" height="23.80" fill="#7272bc"/>
<rect x="178.45" y="272.60" width="1.51" height="23.80" fill="#6969b8"/>
<rect x="179.90" y="272.60" width="1.51" height="23.80" fill="#6868b8"/>
<rect x="181.35" y="272.60" width="1.51" height="23.80" fill="#6565b6"/>
<rect x="182.80" y="272.60" width="1.51" height="23.80" fill="#7171bc"/>
<rect x="184.25" y="272.60" width="1.51" height="23.80" fill="#6464b6"/>
<rect x="185.70" y="272.60" width="1.51" height="23.80" fill="#6767b7"/>
<rect x="187.15" y="272.60" width="1.51" height="23.80" fill="#6363b6"/>
<rect x="188.60" y="272.60" width="1.62" height="23.80" fill="#2e2e9c"/>
<rect x="190.16" y="272.60" width="1.62" height="23.80" fill="#2c2c9b"/>
<rect x="191.71" y="272.60" width="1.62" height="23.80" fill="#2c2c9b"/>
<rect x="193.27" y="272.60" width="1.62" height="23.80" fill="#212196"/>
<rect x="194.82" y="272.60" width="1.62" height="23.80" fill="#29299a"/>
<rect x="196.38" y="272.60" width="1.62" height="23.80" fill="#272799"/>
<rect x="197.93" y="272.60" width="1.62" height="23.80" fill="#222297"/>
<rect x="199.49" y="272.60" width="1.62" height="23.80" fill="#202096"/>
<rect x="201.04" y="272.60" width="1.62" height="23.80" fill="#3636a0"/>
<polyline points="43.80,261.00 26.30,261.00 26.30,285.30 43.80,285.30" stroke="#555" stroke-width="0.6" fill="none"/>
<polyline points="79.90,234.40 79.90,226.90 139.70,226.90 139.70,231.80" stroke="#555" stroke-width="0.6" fill="none"/>
<polyline points="65.50,238.50 65.50,234.40 95.60,234.40 95.60,238.50" stroke="#555" stroke-width="0.6" fill="none"/>
<polyline points="115.20,238.00 115.20,231.80 160.00,231.80 160.00,236.70" stroke="#555" stroke-width="0.6" fill="none"/>
<polyline points="113.60,243.80 113.60,238.00 121.70,238.00 121.70,244.00" stroke="#555" stroke-width="0.6" fill="none"/>
<polyline points="140.00,240.00 140.00,236.70 183.80,236.70 183.80,240.00" stroke="#555" stroke-width="0.6" fill="none"/>
<polyline points="44.00,244.30 44.00,242.74 45.57,242.74 45.57,244.30" stroke="#444" stroke-width="0.5" fill="none"/>
<polyline points="45.18,244.30 45.18,242.45 46.92,242.45 46.92,244.30" stroke="#444" stroke-width="0.5" fill="none"/>
<polyline points="46.49,244.30 46.49,242.54 48.22,242.54 48.22,244.30" stroke="#444" stroke-width="0.5" fill="none"/>
<polyline points="47.78,244.30 47.78,243.75 49.10,243.75 49.10,244.30" stroke="#444" stroke-width="0.5" fill="none"/>
<polyline points="48.77,244.30 48.77,242.20 50.26,242.20 50.26,244.30" stroke="#444" stroke-width="0.5" fill="none"/>
<polyline points="49.89,244.30 49.89,242.27 50.89,242.27 50.89,244.30" stroke="#444" stroke-width="0.5" fill="none"/>
<polyline points="50.64,244.30 50.64,243.00 51.76,243.00 51.76,244.30" stroke="#444" stroke-width="0.5" fill="none"/>
<polyline points="51.48,244.30 51.48,242.88 52.90,242.88 52.90,244.30" stroke="#444" stroke-width="0.5" fill="none"/>
<polyline points="52.54,244.30 52.54,243.78 53.64,243.78 53.64,244.30" stroke="#444" stroke-width="0.5" fill="none"/>
<polyline points="53.36,244.30 53.36,243.32 55.09,243.32 55.09,244.30" stroke="#444" stroke-width="0.5" fill="none"/>
<polyline points="54.66,244.30 54.66,242.50 55.70,242.50 55.70,244.30" stroke="#444" stroke-width="0.5" fill="none"/>
<polyline points="55.44,244.30 55.44,242.44 56.46,242.44 56.46,244.30" stroke="#444" stroke-width="0.5" fill="none"/>
<polyline points="56.21,244.30 56.21,242.75 57.22,242.75 57.22,244.30" stroke="#444" stroke-width="0.5" fill="none"/>
<polyline points="56.97,244.30 56.97,243.80 58.65,243.80 58.65,244.30" stroke="#444" stroke-width="0.5" fill="none"/>
<polyline points="58.23,244.30 58.23,243.44 59.33,243.44 59.33,244.30" stroke="#444" stroke-width="0.5" fill="none"/>
<polyline points="59.05,244.30 59.05,242.13 60.74,242.13 60.74,244.30" stroke="#444" stroke-width="0.5" fill="none"/>
<polyline points="60.32,244.30 60.32,243.31 62.08,243.31 62.08,244.30" stroke="#444" stroke-width="0.5" fill="none"/>
<polyline points="61.64,244.30 61.64,242.88 63.15,242.88 63.15,244.30" stroke="#444" stroke-width="0.5" fill="none"/>
<polyline points="62.77,244.30 62.77,243.45 64.52,243.45 64.52,244.30" stroke="#444" stroke-width="0.5" fill="none"/>
<polyline points="64.08,244.30 64.08,242.63 65.85,242.63 65.85,244.30" stroke="#444" stroke-width="0.5" fill="none"/>
<polyline points="65.41,244.30 65.41,242.28 66.58,242.28 66.58,244.30" stroke="#444" stroke-width="0.5" fill="none"/>
<polyline points="66.29,244.30 66.29,243.19 67.34,243.19 67.34,244.30" stroke="#444" stroke-width="0.5" fill="none"/>
<polyline points="67.07,244.30 67.07,243.55 68.03,243.55 68.03,244.30" stroke="#444" stroke-width="0.5" fill="none"/>
<polyline points="67.79,244.30 67.79,243.29 69.24,243.29 69.24,244.30" stroke="#444" stroke-width="0.5" fill="none"/>
<polyline points="68.88,244.30 68.88,243.79 70.39,243.79 70.39,244.30" stroke="#444" stroke-width="0.5" fill="none"/>
<polyline points="70.01,244.30 70.01,243.23 71.19,243.23 71.19,244.30" stroke="#444" stroke-width="0.5" fill="none"/>
<polyline points="70.89,244.30 70.89,242.41 72.22,242.41 72.22,244.30" stroke="#444" stroke-width="0.5" fill="none"/>
<polyline points="71.89,244.30 71.89,243.26 73.22,243.26 73.22,244.30" stroke="#444" stroke-width="0.5" fill="none"/>
<polyline points="72.89,244.30 72.89,242.60 73.84,242.60 73.84,244.30" stroke="#444" stroke-width="0.5" fill="none"/>
<polyline points="73.60,244.30 73.60,242.14 74.53,242.14 74.53,244.30" stroke="#444" stroke-width="0.5" fill="none"/>
<polyline points="74.30,244.30 74.30,242.53 75.96,242.53 75.96,244.30" stroke="#444" stroke-width="0.5" fill="none"/>
<polyline points="75.54,244.30 75.54,243.77 77.15,243.77 77.15,244.30" stroke="#444" stroke-width="0.5" fill="none"/>
<polyline points="76.75,244.30 76.75,243.18 78.17,243.18 78.17,244.30" stroke="#444" stroke-width="0.5" fill="none"/>
<polyline points="77.81,244.30 77.81,243.78 78.75,243.78 78.75,244.30" stroke="#444" stroke-width="0.5" fill="none"/>
<polyline points="78.52,244.30 78.52,243.49 80.28,243.49 80.28,244.30" stroke="#444" stroke-width="0.5" fill="none"/>
<polyline points="79.84,244.30 79.84,243.47 81.42,243.47 81.42,244.30" stroke="#444" stroke-width="0.5" fill="none"/>
<polyline points="81.02,244.30 81.02,242.22 82.77,242.22 82.77,244.30" stroke="#444" stroke-width="0.5" fill="none"/>
<polyline points="82.34,244.30 82.34,243.21 83.55,243.21 83.55,244.30" stroke="#444" stroke-width="0.5" fill="none"/>
<polyline points="83.25,244.30 83.25,242.91 84.85,242.91 84.85,244.30" stroke="#444" stroke-width="0.5" fill="none"/>
<polyline points="84.45,244.30 84.45,243.62 86.02,243.62 86.02,244.30" stroke="#444" stroke-width="0.5" fill="none"/>
<polyline points="85.63,244.30 85.63,242.44 87.30,242.44 87.30,244.30" stroke="#444" stroke-width="0.5" fill="none"/>
<polyline points="86.88,244.30 86.88,243.74 88.63,243.74 88.63,244.30" stroke="#444" stroke-width="0.5" fill="none"/>
<polyline points="88.20,244.30 88.20,243.64 89.40,243.64 89.40,244.30" stroke="#444" stroke-width="0.5" fill="none"/>
<polyline points="89.10,244.30 89.10,242.76 90.83,242.76 90.83,244.30" stroke="#444" stroke-width="0.5" fill="none"/>
<polyline points="90.40,244.30 90.40,243.22 92.13,243.22 92.13,244.30" stroke="#444" stroke-width="0.5" fill="none"/>
<polyline points="91.70,244.30 91.70,242.87 92.88,242.87 92.88,244.30" stroke="#444" stroke-width="0.5" fill="none"/>
<polyline points="92.58,244.30 92.58,243.26 93.64,243.26 93.64,244.30" stroke="#444" stroke-width="0.5" fill="none"/>
<polyline points="93.38,244.30 93.38,243.67 94.41,243.67 94.41,244.30" stroke="#444" stroke-width="0.5" fill="none"/>
<polyline points="94.15,244.30 94.15,242.63 95.95,242.63 95.95,244.30" stroke="#444" stroke-width="0.5" fill="none"/>
<polyline points="95.50,244.30 95.50,243.53 96.44,243.53 96.44,244.30" stroke="#444" stroke-width="0.5" fill="none"/>
<polyline points="96.21,244.30 96.21,242.12 97.59,242.12 97.59,244.30" stroke="#444" stroke-width="0.5" fill="none"/>
<polyline points="97.24,244.30 97.24,243.11 98.36,243.11 98.36,244.30" stroke="#444" stroke-width="0.5" fill="none"/>
<polyline points="98.08,244.30 98.08,242.79 99.72,242.79 99.72,244.30" stroke="#444" stroke-width="0.5" fill="none"/>
<polyline points="99.31,244.30 99.31,243.03 100.59,243.03 100.59,244.30" stroke="#444" stroke-width="0.5" fill="none"/>
<polyline points="100.27,244.30 100.27,243.71 101.99,243.71 101.99,244.30" stroke="#444" stroke-width="0.5" fill="none"/>
<polyline points="104.50,244.30 104.50,243.74 105.84,243.74 105.84,244.30" stroke="#444" stroke-width="0.5" fill="none"/>
<polyline points="105.51,244.30 105.51,242.37 106.53,242.37 106.53,244.30" stroke="#444" stroke-width="0.5" fill="none"/>
<polyline points="106.27,244.30 106.27,242.56 108.03,242.56 108.03,244.30" stroke="#444" stroke-width="0.5" fill="none"/>
<polyline points="107.59,244.30 107.59,242.73 109.20,242.73 109.20,244.30" stroke="#444" stroke-width="0.5" fill="none"/>
<polyline points="108.79,244.30 108.79,243.62 110.09,243.62 110.09,244.30" stroke="#444" stroke-width="0.5" fill="none"/>
<polyline points="109.76,244.30 109.76,243.55 111.42,243.55 111.42,244.30" stroke="#444" stroke-width="0.5" fill="none"/>
<polyline points="111.01,244.30 111.01,243.30 112.32,243.30 112.32,244.30" stroke="#444" stroke-width="0.5" fill="none"/>
<polyline points="111.99,244.30 111.99,242.10 113.66,242.10 113.66,244.30" stroke="#444" stroke-width="0.5" fill="none"/>
<polyline points="113.24,244.30 113.24,242.14 114.55,242.14 114.55,244.30" stroke="#444" stroke-width="0.5" fill="none"/>
<polyline points="114.22,244.30 114.22,242.97 115.78,242.97 115.78,244.30" stroke="#444" stroke-width="0.5" fill="none"/>
<polyline points="115.39,244.30 115.39,242.99 116.55,242.99 116.55,244.30" stroke="#444" stroke-width="0.5" fill="none"/>
<polyline points="116.26,244.30 116.26,243.11 117.29,243.11 117.29,244.30" stroke="#444" stroke-width="0.5" fill="none"/>
<polyline points="117.03,244.30 117.03,243.16 118.82,243.16 118.82,244.30" stroke="#444" stroke-width="0.5" fill="none"/>
<polyline points="124.50,244.30 124.50,242.17 125.96,242.17 125.96,244.30" stroke="#444" stroke-width="0.5" fill="none"/>
<polyline points="125.60,244.30 125.60,242.95 126.80,242.95 126.80,244.30" stroke="#444" stroke-width="0.5" fill="none"/>
<polyline points="126.50,244.30 126.50,243.65 127.65,243.65 127.65,244.30" stroke="#444" stroke-width="0.5" fill="none"/>
<polyline points="127.36,244.30 127.36,242.47 129.04,242.47 129.04,244.30" stroke="#444" stroke-width="0.5" fill="none"/>
<polyline points="128.62,244.30 128.62,243.19 130.23,243.19 130.23,244.30" stroke="#444" stroke-width="0.5" fill="none"/>
<polyline points="129.83,244.30 129.83,242.48 131.35,242.48 131.35,244.30" stroke="#444" stroke-width="0.5" fill="none"/>
<polyline points="130.97,244.30 130.97,242.67 132.55,242.67 132.55,244.30" stroke="#444" stroke-width="0.5" fill="none"/>
<polyline points="132.16,244.30 132.16,243.18 133.69,243.18 133.69,244.30" stroke="#444" stroke-width="0.5" fill="none"/>
<polyline points="133.31,244.30 133.31,243.32 134.65,243.32 134.65,244.30" stroke="#444" stroke-width="0.5" fill="none"/>
<polyline points="134.31,244.30 134.31,242.49 135.83,242.49 135.83,244.30" stroke="#444" stroke-width="0.5" fill="none"/>
<polyline points="135.45,244.30 135.45,243.30 137.20,243.30 137.20,244.30" stroke="#444" stroke-width="0.5" fill="none"/>
<polyline points="136.77,244.30 136.77,242.70 138.19,242.70 138.19,244.30" stroke="#444" stroke-width="0.5" fill="none"/>
<polyline points="137.83,244.30 137.83,243.78 139.23,243.78 139.23,244.30" stroke="#444" stroke-width="0.5" fill="none"/>
<polyline points="138.88,244.30 138.88,243.37 140.38,243.37 140.38,244.30" stroke="#444" stroke-width="0.5" fill="none"/>
<polyline points="140.01,244.30 140.01,243.01 141.64,243.01 141.64,244.30" stroke="#444" stroke-width="0.5" fill="none"/>
<polyline points="141.23,244.30 141.23,242.70 142.85,242.70 142.85,244.30" stroke="#444" stroke-width="0.5" fill="none"/>
<polyline points="142.45,244.30 142.45,243.21 143.92,243.21 143.92,244.30" stroke="#444" stroke-width="0.5" fill="none"/>
<polyline points="143.56,244.30 143.56,242.55 145.20,242.55 145.20,244.30" stroke="#444" stroke-width="0.5" fill="none"/>
<polyline points="144.79,244.30 144.79,243.20 146.45,243.20 146.45,244.30" stroke="#444" stroke-width="0.5" fill="none"/>
<polyline points="146.03,244.30 146.03,242.32 147.55,242.32 147.55,244.30" stroke="#444" stroke-width="0.5" fill="none"/>
<polyline points="147.17,244.30 147.17,242.14 148.93,242.14 148.93,244.30" stroke="#444" stroke-width="0.5" fill="none"/>
<polyline points="148.49,244.30 148.49,242.92 149.87,242.92 149.87,244.30" stroke="#444" stroke-width="0.5" fill="none"/>
<polyline points="149.53,244.30 149.53,243.52 151.18,243.52 151.18,244.30" stroke="#444" stroke-width="0.5" fill="none"/>
<polyline points="150.77,244.30 150.77,242.21 152.09,242.21 152.09,244.30" stroke="#444" stroke-width="0.5" fill="none"/>
<polyline points="151.76,244.30 151.76,242.62 153.31,242.62 153.31,244.30" stroke="#444" stroke-width="0.5" fill="none"/>
<polyline points="152.92,244.30 152.92,242.56 153.98,242.56 153.98,244.30" stroke="#444" stroke-width="0.5" fill="none"/>
<polyline points="153.71,244.30 153.71,242.47 155.14,242.47 155.14,244.30" stroke="#444" stroke-width="0.5" fill="none"/>
<polyline points="154.78,244.30 154.78,242.67 156.06,242.67 156.06,244.30" stroke="#444" stroke-width="0.5" fill="none"/>
<polyline points="155.74,244.30 155.74,242.74 157.34,242.74 157.34,244.30" stroke="#444" stroke-width="0.5" fill="none"/>
<polyline points="156.94,244.30 156.94,242.72 158.49,242.72 158.49,244.30" stroke="#444" stroke-width="0.5" fill="none"/>
<polyline points="158.10,244.30 158.10,243.75 159.14,243.75 159.14,244.30" stroke="#444" stroke-width="0.5" fill="none"/>
<polyline points="158.88,244.30 158.88,243.05 160.37,243.05 160.37,244.30" stroke="#444" stroke-width="0.5" fill="none"/>
<polyline points="160.00,244.30 160.00,243.43 161.51,243.43 161.51,244.30" stroke="#444" stroke-width="0.5" fill="none"/>
<polyline points="161.13,244.30 161.13,242.73 162.07,242.73 162.07,244.30" stroke="#444" stroke-width="0.5" fill="none"/>
<polyline points="161.84,244.30 161.84,243.00 162.94,243.00 162.94,244.30" stroke="#444" stroke-width="0.5" fill="none"/>
<polyline points="162.67,244.30 162.67,243.71 163.69,243.71 163.69,244.30" stroke="#444" stroke-width="0.5" fill="none"/>
<polyline points="163.43,244.30 163.43,243.26 164.49,243.26 164.49,244.30" stroke="#444" stroke-width="0.5" fill="none"/>
<polyline points="164.23,244.30 164.23,243.47 165.16,243.47 165.16,244.30" stroke="#444" stroke-width="0.5" fill="none"/>
<polyline points="164.93,244.30 164.93,243.01 166.17,243.01 166.17,244.30" stroke="#444" stroke-width="0.5" fill="none"/>
<polyline points="165.86,244.30 165.86,242.76 167.29,242.76 167.29,244.30" stroke="#444" stroke-width="0.5" fill="none"/>
<polyline points="166.93,244.30 166.93,243.40 168.65,243.40 168.65,244.30" stroke="#444" stroke-width="0.5" fill="none"/>
<polyline points="168.22,244.30 168.22,243.80 169.48,243.80 169.48,244.30" stroke="#444" stroke-width="0.5" fill="none"/>
<polyline points="169.17,244.30 169.17,243.33 170.43,243.33 170.43,244.30" stroke="#444" stroke-width="0.5" fill="none"/>
<polyline points="170.12,244.30 170.12,243.60 171.77,243.60 171.77,244.30" stroke="#444" stroke-width="0.5" fill="none"/>
<polyline points="171.35,244.30 171.35,243.16 172.29,243.16 172.29,244.30" stroke="#444" stroke-width="0.5" fill="none"/>
<polyline points="172.05,244.30 172.05,242.76 173.04,242.76 173.04,244.30" stroke="#444" stroke-width="0.5" fill="none"/>
<polyline points="172.79,244.30 172.79,242.87 174.00,242.87 174.00,244.30" stroke="#444" stroke-width="0.5" fill="none"/>
<polyline points="173.70,244.30 173.70,242.81 175.46,242.81 175.46,244.30" stroke="#444" stroke-width="0.5" fill="none"/>
<polyline points="175.02,244.30 175.02,242.41 176.29,242.41 176.29,244.30" stroke="#444" stroke-width="0.5" fill="none"/>
<polyline points="175.98,244.30 175.98,242.42 177.45,242.42 177.45,244.30" stroke="#444" stroke-width="0.5" fill="none"/>
<polyline points="177.08,244.30 177.08,243.17 178.11,243.17 178.11,244.30" stroke="#444" stroke-width="0.5" fill="none"/>
<polyline points="177.86,244.30 177.86,242.79 179.26,242.79 179.26,244.30" stroke="#444" stroke-width="0.5" fill="none"/>
<polyline points="178.91,244.30 178.91,242.17 180.68,242.17 180.68,244.30" stroke="#444" stroke-width="0.5" fill="none"/>
<polyline points="180.24,244.30 180.24,242.77 181.46,242.77 181.46,244.30" stroke="#444" stroke-width="0.5" fill="none"/>
<polyline points="181.15,244.30 181.15,242.28 182.05,242.28 182.05,244.30" stroke="#444" stroke-width="0.5" fill="none"/>
<polyline points="181.83,244.30 181.83,243.62 183.24,243.62 183.24,244.30" stroke="#444" stroke-width="0.5" fill="none"/>
<polyline points="182.88,244.30 182.88,242.75 183.91,242.75 183.91,244.30" stroke="#444" stroke-width="0.5" fill="none"/>
<polyline points="183.65,244.30 183.65,242.73 185.36,242.73 185.36,244.30" stroke="#444" stroke-width="0.5" fill="none"/>
<polyline points="184.93,244.30 184.93,243.16 186.22,243.16 186.22,244.30" stroke="#444" stroke-width="0.5" fill="none"/>
<polyline points="185.90,244.30 185.90,243.42 187.06,243.42 187.06,244.30" stroke="#444" stroke-width="0.5" fill="none"/>
<polyline points="186.77,244.30 186.77,242.15 188.01,242.15 188.01,244.30" stroke="#444" stroke-width="0.5" fill="none"/>
<polyline points="187.70,244.30 187.70,242.17 189.42,242.17 189.42,244.30" stroke="#444" stroke-width="0.5" fill="none"/>
<polyline points="188.99,244.30 188.99,242.79 190.13,242.79 190.13,244.30" stroke="#444" stroke-width="0.5" fill="none"/>
<polyline points="189.84,244.30 189.84,242.13 191.19,242.13 191.19,244.30" stroke="#444" stroke-width="0.5" fill="none"/>
<polyline points="190.85,244.30 190.85,243.09 192.04,243.09 192.04,244.30" stroke="#444" stroke-width="0.5" fill="none"/>
<polyline points="191.74,244.30 191.74,242.13 193.08,242.13 193.08,244.30" stroke="#444" stroke-width="0.5" fill="none"/>
<polyline points="192.75,244.30 192.75,243.31 194.08,243.31 194.08,244.30" stroke="#444" stroke-width="0.5" fill="none"/>
<polyline points="193.75,244.30 193.75,243.59 195.21,243.59 195.21,244.30" stroke="#444" stroke-width="0.5" fill="none"/>
<polyline points="194.84,244.30 194.84,243.05 196.00,243.05 196.00,244.30" stroke="#444" stroke-width="0.5" fill="none"/>
<polyline points="195.71,244.30 195.71,242.47 197.36,242.47 197.36,244.30" stroke="#444" stroke-width="0.5" fill="none"/>
<polyline points="196.95,244.30 196.95,243.78 198.33,243.78 198.33,244.30" stroke="#444" stroke-width="0.5" fill="none"/>
<polyline points="197.98,244.30 197.98,243.33 199.72,243.33 199.72,244.30" stroke="#444" stroke-width="0.5" fill="none"/>
<polyline points="199.29,244.30 199.29,242.47 200.41,242.47 200.41,244.30" stroke="#444" stroke-width="0.5" fill="none"/>
<polyline points="200.13,244.30 200.13,243.34 201.17,243.34 201.17,244.30" stroke="#444" stroke-width="0.5" fill="none"/>
<polyline points="200.91,244.30 200.91,242.12 202.07,242.12 202.07,244.30" stroke="#444" stroke-width="0.5" fill="none"/>
<polyline points="201.78,244.30 201.78,242.77 203.11,242.77 203.11,244.30" stroke="#444" stroke-width="0.5" fill="none"/>
<line x1="48.00" y1="240.00" x2="100.00" y2="240.00" stroke="#555" stroke-width="0.5"/>
<line x1="106.00" y1="240.80" x2="118.00" y2="240.80" stroke="#555" stroke-width="0.5"/>
<line x1="126.00" y1="240.60" x2="200.00" y2="240.60" stroke="#555" stroke-width="0.5"/>
<line x1="52.00" y1="240.60" x2="52.00" y2="242.40" stroke="#555" stroke-width="0.45"/>
<line x1="60.00" y1="240.60" x2="60.00" y2="242.40" stroke="#555" stroke-width="0.45"/>
<line x1="68.00" y1="240.60" x2="68.00" y2="242.40" stroke="#555" stroke-width="0.45"/>
<line x1="76.00" y1="240.60" x2="76.00" y2="242.40" stroke="#555" stroke-width="0.45"/>
<line x1="84.00" y1="240.60" x2="84.00" y2="242.40" stroke="#555" stroke-width="0.45"/>
<line x1="92.00" y1="240.60" x2="92.00" y2="242.40" stroke="#555" stroke-width="0.45"/>
<line x1="130.00" y1="240.60" x2="130.00" y2="242.40" stroke="#555" stroke-width="0.45"/>
<line x1="140.00" y1="240.60" x2="140.00" y2="242.40" stroke="#555" stroke-width="0.45"/>
<line x1="150.00" y1="240.60" x2="150.00" y2="242.40" stroke="#555" stroke-width="0.45"/>
<line x1="162.00" y1="240.60" x2="162.00" y2="242.40" stroke="#555" stroke-width="0.45"/>
<line x1="172.00" y1="240.60" x2="172.00" y2="242.40" stroke="#555" stroke-width="0.45"/>
<line x1="184.00" y1="240.60" x2="184.00" y2="242.40" stroke="#555" stroke-width="0.45"/>
<line x1="194.00" y1="240.60" x2="194.00" y2="242.40" stroke="#555" stroke-width="0.45"/>
<text x="206.20" y="247.70" font-size="6.0" text-anchor="start" fill="#333">grp</text>
<text x="205.80" y="263.80" font-size="6.3" text-anchor="start" fill="#333" textLength="25.5" lengthAdjust="spacingAndGlyphs">FK866dn</text>
<text x="205.80" y="287.40" font-size="6.3" text-anchor="start" fill="#333" textLength="25.5" lengthAdjust="spacingAndGlyphs">FK866up</text>
<rect x="43.80" y="301.40" width="58.50" height="3.20" fill="#1b4a80"/>
<rect x="104.00" y="301.40" width="98.70" height="3.20" fill="#f0b925"/>
<text x="72.90" y="313.20" font-size="6.0" text-anchor="middle" fill="#333" textLength="41.5" lengthAdjust="spacingAndGlyphs">FK866 Sensitive</text>
<text x="153.60" y="313.20" font-size="6.2" text-anchor="middle" fill="#333">Other</text>
<defs><linearGradient id="cbar" x1="0" y1="0" x2="0" y2="1"><stop offset="0" stop-color="#d7191c"/><stop offset="0.5" stop-color="#ffffff"/><stop offset="1" stop-color="#1f1b78"/></linearGradient></defs>
<rect x="236.90" y="244.60" width="3.40" height="50.00" fill="url(#cbar)"/>
<text x="241.30" y="250.30" font-size="6.0" text-anchor="start" fill="#333">0.6</text>
<text x="241.30" y="257.10" font-size="6.0" text-anchor="start" fill="#333">0.4</text>
<text x="241.30" y="263.90" font-size="6.0" text-anchor="start" fill="#333">0.2</text>
<text x="241.30" y="270.70" font-size="6.0" text-anchor="start" fill="#333">0</text>
<text x="241.30" y="277.50" font-size="6.0" text-anchor="start" fill="#333">−0.2</text>
<text x="241.30" y="284.30" font-size="6.0" text-anchor="start" fill="#333">−0.4</text>
<text x="241.30" y="291.10" font-size="6.0" text-anchor="start" fill="#333">−0.6</text>
<text x="259.00" y="245.60" font-size="5.6" text-anchor="start" fill="#333">grp</text>
<rect x="259.20" y="249.20" width="5.40" height="5.70" fill="#e0a2ad"/>
<text x="267.40" y="253.60" font-size="6.0" text-anchor="start" fill="#333">1</text>
<rect x="259.20" y="254.80" width="5.40" height="5.70" fill="#a8b46c"/>
<text x="267.40" y="259.40" font-size="6.0" text-anchor="start" fill="#333">2</text>
<rect x="259.20" y="260.40" width="5.40" height="5.70" fill="#3cb4a0"/>
<text x="267.40" y="265.20" font-size="6.0" text-anchor="start" fill="#333">3</text>
<rect x="259.20" y="266.00" width="5.40" height="5.70" fill="#a49fd6"/>
<text x="267.40" y="271.00" font-size="6.0" text-anchor="start" fill="#333">4</text>
<polygon points="53.40,336.50 60.00,337.00 75.40,343.00 90.80,346.00 100.00,352.00 106.20,355.40 121.50,361.00 125.80,361.90 143.00,368.80 154.60,374.60 168.50,376.90 176.00,379.20 193.00,379.20 193.00,384.60 223.80,384.60 223.80,388.50 234.50,388.50 234.50,424.60 223.80,424.60 223.80,411.50 193.00,411.50 193.00,403.50 168.50,403.50 154.60,400.00 143.00,393.00 125.80,389.60 121.50,386.00 106.20,383.00 90.80,372.30 75.40,357.00 62.00,345.00 53.40,338.50" fill="#f8ad3c" fill-opacity="0.34"/>
<polygon points="53.40,337.00 62.00,340.00 75.40,347.70 90.80,360.00 106.20,370.80 121.50,376.00 125.80,376.90 143.00,381.50 154.60,393.00 168.50,401.00 180.00,403.00 234.50,403.00 234.50,424.60 173.00,424.60 168.50,419.60 154.60,415.00 143.00,409.20 125.80,401.10 121.50,398.50 106.20,392.30 90.80,380.00 75.40,364.60 63.00,352.00 53.40,339.00" fill="#4e7f72" fill-opacity="0.32"/>
<polyline points="53.40,337.60 56.00,337.60 56.00,339.00 58.00,339.00 58.00,341.00 60.00,341.00 60.00,343.00 64.60,343.00 64.60,347.00 70.00,347.00 70.00,352.00 75.00,352.00 75.00,355.00 80.00,355.00 80.00,358.50 84.60,358.50 84.60,363.00 88.00,363.00 88.00,368.00 90.80,368.00 90.80,373.80 97.00,373.80 97.00,377.00 103.00,377.00 103.00,380.00 106.20,380.00 106.20,384.60 112.30,384.60 112.30,386.20 121.50,386.20 121.50,390.80 125.80,390.80 125.80,392.00 130.80,392.00 130.80,394.60 135.00,394.60 135.00,397.00 143.00,397.00 143.00,403.00 147.00,403.00 147.00,408.00 150.00,408.00 150.00,410.00 155.00,410.00 155.00,412.00 158.00,412.00 158.00,414.00 160.00,414.00 160.00,416.50 165.00,416.50 165.00,417.40 233.80,417.40 233.80,417.40" stroke="#2e6f5c" stroke-width="0.7" fill="none"/>
<polyline points="53.40,337.60 58.00,337.60 58.00,339.00 63.00,339.00 63.00,341.50 67.70,341.50 67.70,345.00 75.40,345.00 75.40,349.20 80.00,349.20 80.00,352.00 86.00,352.00 86.00,355.40 90.80,355.40 90.80,358.50 98.50,358.50 98.50,363.00 106.20,363.00 106.20,367.70 112.30,367.70 112.30,370.80 118.50,370.80 118.50,373.00 124.60,373.00 124.60,376.00 132.30,376.00 132.30,378.50 140.00,378.50 140.00,380.50 143.00,380.50 143.00,383.00 147.00,383.00 147.00,385.40 155.00,385.40 155.00,389.60 160.00,389.60 160.00,391.50 176.00,391.50 176.00,391.50 178.00,391.50 178.00,393.80 194.60,393.80 194.60,400.00 223.80,400.00 223.80,414.60 233.80,414.60 233.80,414.60" stroke="#e8961e" stroke-width="0.7" fill="none"/>
<line x1="61.10" y1="347.30" x2="62.90" y2="347.30" stroke="#2e6f5c" stroke-width="0.7"/>
<line x1="62.00" y1="346.40" x2="62.00" y2="348.20" stroke="#2e6f5c" stroke-width="0.7"/>
<line x1="75.10" y1="356.00" x2="76.90" y2="356.00" stroke="#2e6f5c" stroke-width="0.7"/>
<line x1="76.00" y1="355.10" x2="76.00" y2="356.90" stroke="#2e6f5c" stroke-width="0.7"/>
<line x1="109.10" y1="386.20" x2="110.90" y2="386.20" stroke="#2e6f5c" stroke-width="0.7"/>
<line x1="110.00" y1="385.30" x2="110.00" y2="387.10" stroke="#2e6f5c" stroke-width="0.7"/>
<line x1="139.10" y1="397.00" x2="140.90" y2="397.00" stroke="#2e6f5c" stroke-width="0.7"/>
<line x1="140.00" y1="396.10" x2="140.00" y2="397.90" stroke="#2e6f5c" stroke-width="0.7"/>
<line x1="151.10" y1="408.50" x2="152.90" y2="408.50" stroke="#2e6f5c" stroke-width="0.7"/>
<line x1="152.00" y1="407.60" x2="152.00" y2="409.40" stroke="#2e6f5c" stroke-width="0.7"/>
<line x1="169.10" y1="417.40" x2="170.90" y2="417.40" stroke="#2e6f5c" stroke-width="0.7"/>
<line x1="170.00" y1="416.50" x2="170.00" y2="418.30" stroke="#2e6f5c" stroke-width="0.7"/>
<line x1="179.10" y1="417.40" x2="180.90" y2="417.40" stroke="#2e6f5c" stroke-width="0.7"/>
<line x1="180.00" y1="416.50" x2="180.00" y2="418.30" stroke="#2e6f5c" stroke-width="0.7"/>
<line x1="184.10" y1="417.40" x2="185.90" y2="417.40" stroke="#2e6f5c" stroke-width="0.7"/>
<line x1="185.00" y1="416.50" x2="185.00" y2="418.30" stroke="#2e6f5c" stroke-width="0.7"/>
<line x1="199.10" y1="417.40" x2="200.90" y2="417.40" stroke="#2e6f5c" stroke-width="0.7"/>
<line x1="200.00" y1="416.50" x2="200.00" y2="418.30" stroke="#2e6f5c" stroke-width="0.7"/>
<line x1="219.10" y1="417.40" x2="220.90" y2="417.40" stroke="#2e6f5c" stroke-width="0.7"/>
<line x1="220.00" y1="416.50" x2="220.00" y2="418.30" stroke="#2e6f5c" stroke-width="0.7"/>
<line x1="232.90" y1="417.40" x2="234.70" y2="417.40" stroke="#2e6f5c" stroke-width="0.7"/>
<line x1="233.80" y1="416.50" x2="233.80" y2="418.30" stroke="#2e6f5c" stroke-width="0.7"/>
<line x1="69.10" y1="348.00" x2="70.90" y2="348.00" stroke="#e8961e" stroke-width="0.7"/>
<line x1="70.00" y1="347.10" x2="70.00" y2="348.90" stroke="#e8961e" stroke-width="0.7"/>
<line x1="94.10" y1="358.50" x2="95.90" y2="358.50" stroke="#e8961e" stroke-width="0.7"/>
<line x1="95.00" y1="357.60" x2="95.00" y2="359.40" stroke="#e8961e" stroke-width="0.7"/>
<line x1="149.10" y1="387.70" x2="150.90" y2="387.70" stroke="#e8961e" stroke-width="0.7"/>
<line x1="150.00" y1="386.80" x2="150.00" y2="388.60" stroke="#e8961e" stroke-width="0.7"/>
<line x1="164.10" y1="391.50" x2="165.90" y2="391.50" stroke="#e8961e" stroke-width="0.7"/>
<line x1="165.00" y1="390.60" x2="165.00" y2="392.40" stroke="#e8961e" stroke-width="0.7"/>
<line x1="171.10" y1="391.50" x2="172.90" y2="391.50" stroke="#e8961e" stroke-width="0.7"/>
<line x1="172.00" y1="390.60" x2="172.00" y2="392.40" stroke="#e8961e" stroke-width="0.7"/>
<line x1="184.10" y1="393.80" x2="185.90" y2="393.80" stroke="#e8961e" stroke-width="0.7"/>
<line x1="185.00" y1="392.90" x2="185.00" y2="394.70" stroke="#e8961e" stroke-width="0.7"/>
<line x1="203.10" y1="400.00" x2="204.90" y2="400.00" stroke="#e8961e" stroke-width="0.7"/>
<line x1="204.00" y1="399.10" x2="204.00" y2="400.90" stroke="#e8961e" stroke-width="0.7"/>
<line x1="207.10" y1="400.00" x2="208.90" y2="400.00" stroke="#e8961e" stroke-width="0.7"/>
<line x1="208.00" y1="399.10" x2="208.00" y2="400.90" stroke="#e8961e" stroke-width="0.7"/>
<line x1="228.10" y1="414.60" x2="229.90" y2="414.60" stroke="#e8961e" stroke-width="0.7"/>
<line x1="229.00" y1="413.70" x2="229.00" y2="415.50" stroke="#e8961e" stroke-width="0.7"/>
<line x1="232.90" y1="414.60" x2="234.70" y2="414.60" stroke="#e8961e" stroke-width="0.7"/>
<line x1="233.80" y1="413.70" x2="233.80" y2="415.50" stroke="#e8961e" stroke-width="0.7"/>
<line x1="53.40" y1="385.70" x2="147.30" y2="385.70" stroke="#111" stroke-width="0.85" stroke-dasharray="0.9,1.15"/>
<line x1="112.30" y1="385.70" x2="112.30" y2="438.00" stroke="#111" stroke-width="0.85" stroke-dasharray="0.9,1.15"/>
<line x1="147.30" y1="385.70" x2="147.30" y2="438.00" stroke="#111" stroke-width="0.85" stroke-dasharray="0.9,1.15"/>
<line x1="44.50" y1="333.50" x2="44.50" y2="439.20" stroke="#222" stroke-width="0.9"/>
<line x1="44.10" y1="438.75" x2="239.20" y2="438.75" stroke="#222" stroke-width="0.9"/>
<line x1="41.80" y1="337.50" x2="44.50" y2="337.50" stroke="#333" stroke-width="0.8"/>
<text x="38.60" y="339.60" font-size="6.2" text-anchor="end" fill="#444">1.00</text>
<line x1="41.80" y1="361.56" x2="44.50" y2="361.56" stroke="#333" stroke-width="0.8"/>
<text x="38.60" y="363.66" font-size="6.2" text-anchor="end" fill="#444">0.75</text>
<line x1="41.80" y1="385.62" x2="44.50" y2="385.62" stroke="#333" stroke-width="0.8"/>
<text x="38.60" y="387.73" font-size="6.2" text-anchor="end" fill="#444">0.50</text>
<line x1="41.80" y1="409.69" x2="44.50" y2="409.69" stroke="#333" stroke-width="0.8"/>
<text x="38.60" y="411.79" font-size="6.2" text-anchor="end" fill="#444">0.25</text>
<line x1="41.80" y1="433.75" x2="44.50" y2="433.75" stroke="#333" stroke-width="0.8"/>
<text x="38.60" y="435.85" font-size="6.2" text-anchor="end" fill="#444">0.00</text>
<line x1="53.25" y1="438.75" x2="53.25" y2="440.90" stroke="#333" stroke-width="0.8"/>
<text x="53.25" y="450.00" font-size="6.0" text-anchor="middle" fill="#444">0</text>
<line x1="88.50" y1="438.75" x2="88.50" y2="440.90" stroke="#333" stroke-width="0.8"/>
<text x="88.50" y="450.00" font-size="6.0" text-anchor="middle" fill="#444">500</text>
<line x1="123.75" y1="438.75" x2="123.75" y2="440.90" stroke="#333" stroke-width="0.8"/>
<text x="123.75" y="450.00" font-size="6.0" text-anchor="middle" fill="#444">1000</text>
<line x1="159.00" y1="438.75" x2="159.00" y2="440.90" stroke="#333" stroke-width="0.8"/>
<text x="159.00" y="450.00" font-size="6.0" text-anchor="middle" fill="#444">1500</text>
<line x1="194.25" y1="438.75" x2="194.25" y2="440.90" stroke="#333" stroke-width="0.8"/>
<text x="194.25" y="450.00" font-size="6.0" text-anchor="middle" fill="#444">2000</text>
<line x1="229.50" y1="438.75" x2="229.50" y2="440.90" stroke="#333" stroke-width="0.8"/>
<text x="229.50" y="450.00" font-size="6.0" text-anchor="middle" fill="#444">2500</text>
<text x="141.40" y="460.60" font-size="7.2" text-anchor="middle" fill="#222" textLength="53.5" lengthAdjust="spacingAndGlyphs">Progression free days</text>
<text x="21.20" y="385.20" font-size="7.0" text-anchor="middle" fill="#222" transform="rotate(-90 21.2 385.2)" textLength="46" lengthAdjust="spacingAndGlyphs">Survival probability</text>
<text x="56.3" y="417.6" font-size="6.4" fill="#333"><tspan font-style="italic">P</tspan> = .017</text>
<text x="89.80" y="328.60" font-size="6.2" text-anchor="start" fill="#333">Strata</text>
<rect x="112.70" y="324.00" width="6.50" height="5.70" fill="#fbd9a6"/>
<line x1="113.20" y1="326.90" x2="118.70" y2="326.90" stroke="#e8961e" stroke-width="0.8"/>
<text x="121.80" y="328.60" font-size="6.2" text-anchor="start" fill="#333">quartile = 1</text>
<rect x="153.50" y="324.00" width="6.50" height="5.70" fill="#bccbc3"/>
<line x1="154.00" y1="326.90" x2="159.50" y2="326.90" stroke="#2e6f5c" stroke-width="0.8"/>
<text x="162.40" y="328.60" font-size="6.2" text-anchor="start" fill="#333">quartile = 4</text>
<rect x="155.20" y="336.20" width="80.00" height="5.60" fill="#d9d9d9"/>
<rect x="155.20" y="341.80" width="80.00" height="6.60" fill="#ededed"/>
<rect x="155.20" y="348.40" width="80.00" height="6.60" fill="#e6e6e6"/>
<line x1="171.20" y1="336.20" x2="171.20" y2="355.00" stroke="#fff" stroke-width="0.5"/>
<text transform="translate(163.20 340.3) scale(0.25)" font-size="16" text-anchor="middle" fill="#333">records</text>
<text transform="translate(163.20 346.4) scale(0.25)" font-size="16" text-anchor="middle" fill="#333">71</text>
<text transform="translate(163.20 353.0) scale(0.25)" font-size="16" text-anchor="middle" fill="#333">69</text>
<line x1="187.20" y1="336.20" x2="187.20" y2="355.00" stroke="#fff" stroke-width="0.5"/>
<text transform="translate(179.20 340.3) scale(0.25)" font-size="16" text-anchor="middle" fill="#333">events</text>
<text transform="translate(179.20 346.4) scale(0.25)" font-size="16" text-anchor="middle" fill="#333">37</text>
<text transform="translate(179.20 353.0) scale(0.25)" font-size="16" text-anchor="middle" fill="#333">44</text>
<line x1="203.20" y1="336.20" x2="203.20" y2="355.00" stroke="#fff" stroke-width="0.5"/>
<text transform="translate(195.20 340.3) scale(0.25)" font-size="16" text-anchor="middle" fill="#333">median</text>
<text transform="translate(195.20 346.4) scale(0.25)" font-size="16" text-anchor="middle" fill="#333">1329</text>
<text transform="translate(195.20 353.0) scale(0.25)" font-size="16" text-anchor="middle" fill="#333">833</text>
<line x1="219.20" y1="336.20" x2="219.20" y2="355.00" stroke="#fff" stroke-width="0.5"/>
<text transform="translate(211.20 340.3) scale(0.25)" font-size="16" text-anchor="middle" fill="#333">0.95LCL</text>
<text transform="translate(211.20 346.4) scale(0.25)" font-size="16" text-anchor="middle" fill="#333">836</text>
<text transform="translate(211.20 353.0) scale(0.25)" font-size="16" text-anchor="middle" fill="#333">554</text>
<text transform="translate(227.20 340.3) scale(0.25)" font-size="16" text-anchor="middle" fill="#333">0.95UCL</text>
<text transform="translate(227.20 346.4) scale(0.25)" font-size="16" text-anchor="middle" fill="#333">2417</text>
<text transform="translate(227.20 353.0) scale(0.25)" font-size="16" text-anchor="middle" fill="#333">1250</text>
<text transform="translate(153.5 346.4) scale(0.25)" font-size="16" text-anchor="end" fill="#333">quartile = <tspan font-style="italic">1</tspan></text>
<text transform="translate(153.5 353.0) scale(0.25)" font-size="16" text-anchor="end" fill="#333">quartile = <tspan font-style="italic">4</tspan></text>
<text x="285.00" y="275.20" font-size="10.5" text-anchor="start" fill="#000" font-weight="bold" stroke="#000" stroke-width="0.3">E</text>
<line x1="325.90" y1="282.60" x2="325.90" y2="389.50" stroke="#222" stroke-width="1.1"/>
<line x1="323.10" y1="389.10" x2="325.90" y2="389.10" stroke="#222" stroke-width="1.1"/>
<text x="320.70" y="391.30" font-size="6.2" text-anchor="end" fill="#333">0</text>
<line x1="323.10" y1="354.10" x2="325.90" y2="354.10" stroke="#222" stroke-width="1.1"/>
<text x="320.70" y="356.30" font-size="6.2" text-anchor="end" fill="#333">50</text>
<line x1="323.10" y1="319.10" x2="325.90" y2="319.10" stroke="#222" stroke-width="1.1"/>
<text x="320.70" y="321.30" font-size="6.2" text-anchor="end" fill="#333">100</text>
<line x1="323.10" y1="284.10" x2="325.90" y2="284.10" stroke="#222" stroke-width="1.1"/>
<text x="320.70" y="286.30" font-size="6.2" text-anchor="end" fill="#333">150</text>
<line x1="325.50" y1="389.10" x2="511.30" y2="389.10" stroke="#222" stroke-width="1.1"/>
<text x="303.50" y="337.00" font-size="6.4" text-anchor="middle" fill="#333" font-weight="bold" transform="rotate(-90 303.5 337.0)" textLength="62" lengthAdjust="spacingAndGlyphs" stroke="#333" stroke-width="0.12">Specific cell viability (%)</text>
<rect x="329.50" y="282.40" width="113.50" height="2.60" fill="#c41e3a"/>
<rect x="451.30" y="282.50" width="62.50" height="2.60" fill="#1a4f8c"/>
<text x="385.0" y="278.7" font-size="6.2" text-anchor="middle" fill="#222">CD138<tspan font-size="3.8" dy="-2.2">+</tspan><tspan dy="2.2"> cells</tspan></text>
<text x="482.20" y="279.80" font-size="6.4" text-anchor="middle" fill="#222">PBMCs</text>
<text x="321.30" y="400.20" font-size="6.2" text-anchor="end" fill="#222">NA 1µM</text>
<text x="321.30" y="409.20" font-size="6.2" text-anchor="end" fill="#222">FK866 10nM</text>
<rect x="329.00" y="317.00" width="4.80" height="72.10" fill="#a8be86"/>
<line x1="331.40" y1="312.10" x2="331.40" y2="317.00" stroke="#222" stroke-width="0.7"/>
<line x1="329.90" y1="312.10" x2="332.90" y2="312.10" stroke="#222" stroke-width="0.7"/>
<line x1="331.40" y1="389.10" x2="331.40" y2="390.90" stroke="#222" stroke-width="0.7"/>
<text x="331.40" y="400.80" font-size="6.0" text-anchor="middle" fill="#333">−</text>
<text x="331.40" y="409.60" font-size="6.0" text-anchor="middle" fill="#333">−</text>
<rect x="335.50" y="313.08" width="4.80" height="76.02" fill="#a8be86"/>
<line x1="337.90" y1="292.50" x2="337.90" y2="313.08" stroke="#222" stroke-width="0.7"/>
<line x1="336.40" y1="292.50" x2="339.40" y2="292.50" stroke="#222" stroke-width="0.7"/>
<line x1="337.90" y1="389.10" x2="337.90" y2="390.90" stroke="#222" stroke-width="0.7"/>
<text x="337.90" y="400.80" font-size="6.0" text-anchor="middle" fill="#333">+</text>
<text x="337.90" y="409.60" font-size="6.0" text-anchor="middle" fill="#333">−</text>
<rect x="342.00" y="363.90" width="4.80" height="25.20" fill="#a8be86"/>
<line x1="344.40" y1="362.85" x2="344.40" y2="363.90" stroke="#222" stroke-width="0.7"/>
<line x1="342.90" y1="362.85" x2="345.90" y2="362.85" stroke="#222" stroke-width="0.7"/>
<line x1="344.40" y1="389.10" x2="344.40" y2="390.90" stroke="#222" stroke-width="0.7"/>
<text x="344.40" y="400.80" font-size="6.0" text-anchor="middle" fill="#333">−</text>
<text x="344.40" y="409.60" font-size="6.0" text-anchor="middle" fill="#333">+</text>
<rect x="348.50" y="320.50" width="4.80" height="68.60" fill="#a8be86"/>
<line x1="350.90" y1="314.90" x2="350.90" y2="320.50" stroke="#222" stroke-width="0.7"/>
<line x1="349.40" y1="314.90" x2="352.40" y2="314.90" stroke="#222" stroke-width="0.7"/>
<line x1="350.90" y1="389.10" x2="350.90" y2="390.90" stroke="#222" stroke-width="0.7"/>
<text x="350.90" y="400.80" font-size="6.0" text-anchor="middle" fill="#333">+</text>
<text x="350.90" y="409.60" font-size="6.0" text-anchor="middle" fill="#333">+</text>
<line x1="327.70" y1="413.80" x2="350.80" y2="413.80" stroke="#333" stroke-width="0.8"/>
<text x="339.30" y="421.80" font-size="6.2" text-anchor="middle" fill="#222">MM#2</text>
<line x1="340.20" y1="307.50" x2="349.50" y2="307.50" stroke="#222" stroke-width="0.8"/>
<text x="344.85" y="306.20" font-size="6.0" text-anchor="middle" fill="#222">***</text>
<rect x="360.10" y="319.10" width="4.80" height="70.00" fill="#a8be86"/>
<line x1="362.50" y1="310.70" x2="362.50" y2="319.10" stroke="#222" stroke-width="0.7"/>
<line x1="361.00" y1="310.70" x2="364.00" y2="310.70" stroke="#222" stroke-width="0.7"/>
<line x1="362.50" y1="389.10" x2="362.50" y2="390.90" stroke="#222" stroke-width="0.7"/>
<text x="362.50" y="400.80" font-size="6.0" text-anchor="middle" fill="#333">−</text>
<text x="362.50" y="409.60" font-size="6.0" text-anchor="middle" fill="#333">−</text>
<rect x="366.60" y="311.40" width="4.80" height="77.70" fill="#a8be86"/>
<line x1="369.00" y1="310.70" x2="369.00" y2="311.40" stroke="#222" stroke-width="0.7"/>
<line x1="367.50" y1="310.70" x2="370.50" y2="310.70" stroke="#222" stroke-width="0.7"/>
<line x1="369.00" y1="389.10" x2="369.00" y2="390.90" stroke="#222" stroke-width="0.7"/>
<text x="369.00" y="400.80" font-size="6.0" text-anchor="middle" fill="#333">+</text>
<text x="369.00" y="409.60" font-size="6.0" text-anchor="middle" fill="#333">−</text>
<rect x="373.10" y="349.20" width="4.80" height="39.90" fill="#a8be86"/>
<line x1="375.50" y1="348.50" x2="375.50" y2="349.20" stroke="#222" stroke-width="0.7"/>
<line x1="374.00" y1="348.50" x2="377.00" y2="348.50" stroke="#222" stroke-width="0.7"/>
<line x1="375.50" y1="389.10" x2="375.50" y2="390.90" stroke="#222" stroke-width="0.7"/>
<text x="375.50" y="400.80" font-size="6.0" text-anchor="middle" fill="#333">−</text>
<text x="375.50" y="409.60" font-size="6.0" text-anchor="middle" fill="#333">+</text>
<rect x="379.60" y="313.50" width="4.80" height="75.60" fill="#a8be86"/>
<line x1="382.00" y1="310.00" x2="382.00" y2="313.50" stroke="#222" stroke-width="0.7"/>
<line x1="380.50" y1="310.00" x2="383.50" y2="310.00" stroke="#222" stroke-width="0.7"/>
<line x1="382.00" y1="389.10" x2="382.00" y2="390.90" stroke="#222" stroke-width="0.7"/>
<text x="382.00" y="400.80" font-size="6.0" text-anchor="middle" fill="#333">+</text>
<text x="382.00" y="409.60" font-size="6.0" text-anchor="middle" fill="#333">+</text>
<line x1="357.50" y1="413.80" x2="380.00" y2="413.80" stroke="#333" stroke-width="0.8"/>
<text x="368.30" y="421.80" font-size="6.2" text-anchor="middle" fill="#222">MM#3</text>
<line x1="373.80" y1="306.30" x2="382.50" y2="306.30" stroke="#222" stroke-width="0.8"/>
<text x="378.15" y="305.00" font-size="6.0" text-anchor="middle" fill="#222">**</text>
<rect x="391.20" y="318.61" width="4.80" height="70.49" fill="#a8be86"/>
<line x1="393.60" y1="318.05" x2="393.60" y2="318.61" stroke="#222" stroke-width="0.7"/>
<line x1="392.10" y1="318.05" x2="395.10" y2="318.05" stroke="#222" stroke-width="0.7"/>
<line x1="393.60" y1="389.10" x2="393.60" y2="390.90" stroke="#222" stroke-width="0.7"/>
<text x="393.60" y="400.80" font-size="6.0" text-anchor="middle" fill="#333">−</text>
<text x="393.60" y="409.60" font-size="6.0" text-anchor="middle" fill="#333">−</text>
<rect x="397.70" y="312.80" width="4.80" height="76.30" fill="#a8be86"/>
<line x1="400.10" y1="312.10" x2="400.10" y2="312.80" stroke="#222" stroke-width="0.7"/>
<line x1="398.60" y1="312.10" x2="401.60" y2="312.10" stroke="#222" stroke-width="0.7"/>
<line x1="400.10" y1="389.10" x2="400.10" y2="390.90" stroke="#222" stroke-width="0.7"/>
<text x="400.10" y="400.80" font-size="6.0" text-anchor="middle" fill="#333">+</text>
<text x="400.10" y="409.60" font-size="6.0" text-anchor="middle" fill="#333">−</text>
<rect x="404.20" y="350.60" width="4.80" height="38.50" fill="#a8be86"/>
<line x1="406.60" y1="346.40" x2="406.60" y2="350.60" stroke="#222" stroke-width="0.7"/>
<line x1="405.10" y1="346.40" x2="408.10" y2="346.40" stroke="#222" stroke-width="0.7"/>
<line x1="406.60" y1="389.10" x2="406.60" y2="390.90" stroke="#222" stroke-width="0.7"/>
<text x="406.60" y="400.80" font-size="6.0" text-anchor="middle" fill="#333">−</text>
<text x="406.60" y="409.60" font-size="6.0" text-anchor="middle" fill="#333">+</text>
<rect x="410.70" y="319.10" width="4.80" height="70.00" fill="#a8be86"/>
<line x1="413.10" y1="310.00" x2="413.10" y2="319.10" stroke="#222" stroke-width="0.7"/>
<line x1="411.60" y1="310.00" x2="414.60" y2="310.00" stroke="#222" stroke-width="0.7"/>
<line x1="413.10" y1="389.10" x2="413.10" y2="390.90" stroke="#222" stroke-width="0.7"/>
<text x="413.10" y="400.80" font-size="6.0" text-anchor="middle" fill="#333">+</text>
<text x="413.10" y="409.60" font-size="6.0" text-anchor="middle" fill="#333">+</text>
<line x1="389.00" y1="413.80" x2="413.00" y2="413.80" stroke="#333" stroke-width="0.8"/>
<text x="400.60" y="421.80" font-size="6.2" text-anchor="middle" fill="#222">MM#4</text>
<line x1="403.80" y1="307.50" x2="413.80" y2="307.50" stroke="#222" stroke-width="0.8"/>
<text x="408.80" y="306.20" font-size="6.0" text-anchor="middle" fill="#222">*</text>
<rect x="422.30" y="319.10" width="4.80" height="70.00" fill="#a8be86"/>
<line x1="424.70" y1="310.00" x2="424.70" y2="319.10" stroke="#222" stroke-width="0.7"/>
<line x1="423.20" y1="310.00" x2="426.20" y2="310.00" stroke="#222" stroke-width="0.7"/>
<line x1="424.70" y1="389.10" x2="424.70" y2="390.90" stroke="#222" stroke-width="0.7"/>
<text x="424.70" y="400.80" font-size="6.0" text-anchor="middle" fill="#333">−</text>
<text x="424.70" y="409.60" font-size="6.0" text-anchor="middle" fill="#333">−</text>
<rect x="428.80" y="319.10" width="4.80" height="70.00" fill="#a8be86"/>
<line x1="431.20" y1="303.70" x2="431.20" y2="319.10" stroke="#222" stroke-width="0.7"/>
<line x1="429.70" y1="303.70" x2="432.70" y2="303.70" stroke="#222" stroke-width="0.7"/>
<line x1="431.20" y1="389.10" x2="431.20" y2="390.90" stroke="#222" stroke-width="0.7"/>
<text x="431.20" y="400.80" font-size="6.0" text-anchor="middle" fill="#333">+</text>
<text x="431.20" y="409.60" font-size="6.0" text-anchor="middle" fill="#333">−</text>
<rect x="435.30" y="372.30" width="4.80" height="16.80" fill="#a8be86"/>
<line x1="437.70" y1="370.90" x2="437.70" y2="372.30" stroke="#222" stroke-width="0.7"/>
<line x1="436.20" y1="370.90" x2="439.20" y2="370.90" stroke="#222" stroke-width="0.7"/>
<line x1="437.70" y1="389.10" x2="437.70" y2="390.90" stroke="#222" stroke-width="0.7"/>
<text x="437.70" y="400.80" font-size="6.0" text-anchor="middle" fill="#333">−</text>
<text x="437.70" y="409.60" font-size="6.0" text-anchor="middle" fill="#333">+</text>
<rect x="441.80" y="329.60" width="4.80" height="59.50" fill="#a8be86"/>
<line x1="444.20" y1="323.30" x2="444.20" y2="329.60" stroke="#222" stroke-width="0.7"/>
<line x1="442.70" y1="323.30" x2="445.70" y2="323.30" stroke="#222" stroke-width="0.7"/>
<line x1="444.20" y1="389.10" x2="444.20" y2="390.90" stroke="#222" stroke-width="0.7"/>
<text x="444.20" y="400.80" font-size="6.0" text-anchor="middle" fill="#333">+</text>
<text x="444.20" y="409.60" font-size="6.0" text-anchor="middle" fill="#333">+</text>
<line x1="422.00" y1="413.80" x2="445.50" y2="413.80" stroke="#333" stroke-width="0.8"/>
<text x="433.80" y="421.80" font-size="6.2" text-anchor="middle" fill="#222">MM#5</text>
<line x1="436.30" y1="318.80" x2="445.00" y2="318.80" stroke="#222" stroke-width="0.8"/>
<text x="440.65" y="317.50" font-size="6.0" text-anchor="middle" fill="#222">**</text>
<rect x="453.40" y="319.10" width="4.80" height="70.00" fill="#a8be86"/>
<line x1="455.80" y1="312.80" x2="455.80" y2="319.10" stroke="#222" stroke-width="0.7"/>
<line x1="454.30" y1="312.80" x2="457.30" y2="312.80" stroke="#222" stroke-width="0.7"/>
<line x1="455.80" y1="389.10" x2="455.80" y2="390.90" stroke="#222" stroke-width="0.7"/>
<text x="455.80" y="400.80" font-size="6.0" text-anchor="middle" fill="#333">−</text>
<text x="455.80" y="409.60" font-size="6.0" text-anchor="middle" fill="#333">−</text>
<rect x="459.90" y="307.20" width="4.80" height="81.90" fill="#a8be86"/>
<line x1="462.30" y1="305.10" x2="462.30" y2="307.20" stroke="#222" stroke-width="0.7"/>
<line x1="460.80" y1="305.10" x2="463.80" y2="305.10" stroke="#222" stroke-width="0.7"/>
<line x1="462.30" y1="389.10" x2="462.30" y2="390.90" stroke="#222" stroke-width="0.7"/>
<text x="462.30" y="400.80" font-size="6.0" text-anchor="middle" fill="#333">+</text>
<text x="462.30" y="409.60" font-size="6.0" text-anchor="middle" fill="#333">−</text>
<rect x="466.40" y="326.80" width="4.80" height="62.30" fill="#a8be86"/>
<line x1="468.80" y1="324.70" x2="468.80" y2="326.80" stroke="#222" stroke-width="0.7"/>
<line x1="467.30" y1="324.70" x2="470.30" y2="324.70" stroke="#222" stroke-width="0.7"/>
<line x1="468.80" y1="389.10" x2="468.80" y2="390.90" stroke="#222" stroke-width="0.7"/>
<text x="468.80" y="400.80" font-size="6.0" text-anchor="middle" fill="#333">−</text>
<text x="468.80" y="409.60" font-size="6.0" text-anchor="middle" fill="#333">+</text>
<rect x="472.90" y="335.90" width="4.80" height="53.20" fill="#a8be86"/>
<line x1="475.30" y1="335.20" x2="475.30" y2="335.90" stroke="#222" stroke-width="0.7"/>
<line x1="473.80" y1="335.20" x2="476.80" y2="335.20" stroke="#222" stroke-width="0.7"/>
<line x1="475.30" y1="389.10" x2="475.30" y2="390.90" stroke="#222" stroke-width="0.7"/>
<text x="475.30" y="400.80" font-size="6.0" text-anchor="middle" fill="#333">+</text>
<text x="475.30" y="409.60" font-size="6.0" text-anchor="middle" fill="#333">+</text>
<line x1="455.00" y1="413.80" x2="479.50" y2="413.80" stroke="#333" stroke-width="0.8"/>
<text x="467.30" y="421.80" font-size="6.2" text-anchor="middle" fill="#222">HD#1</text>
<line x1="470.00" y1="322.50" x2="476.80" y2="322.50" stroke="#222" stroke-width="0.8"/>
<text x="473.40" y="321.20" font-size="6.0" text-anchor="middle" fill="#222">*</text>
<rect x="484.50" y="319.10" width="4.80" height="70.00" fill="#a8be86"/>
<line x1="486.90" y1="316.30" x2="486.90" y2="319.10" stroke="#222" stroke-width="0.7"/>
<line x1="485.40" y1="316.30" x2="488.40" y2="316.30" stroke="#222" stroke-width="0.7"/>
<line x1="486.90" y1="389.10" x2="486.90" y2="390.90" stroke="#222" stroke-width="0.7"/>
<text x="486.90" y="400.80" font-size="6.0" text-anchor="middle" fill="#333">−</text>
<text x="486.90" y="409.60" font-size="6.0" text-anchor="middle" fill="#333">−</text>
<rect x="491.00" y="323.65" width="4.80" height="65.45" fill="#a8be86"/>
<line x1="493.40" y1="319.10" x2="493.40" y2="323.65" stroke="#222" stroke-width="0.7"/>
<line x1="491.90" y1="319.10" x2="494.90" y2="319.10" stroke="#222" stroke-width="0.7"/>
<line x1="493.40" y1="389.10" x2="493.40" y2="390.90" stroke="#222" stroke-width="0.7"/>
<text x="493.40" y="400.80" font-size="6.0" text-anchor="middle" fill="#333">+</text>
<text x="493.40" y="409.60" font-size="6.0" text-anchor="middle" fill="#333">−</text>
<rect x="497.50" y="338.70" width="4.80" height="50.40" fill="#a8be86"/>
<line x1="499.90" y1="336.60" x2="499.90" y2="338.70" stroke="#222" stroke-width="0.7"/>
<line x1="498.40" y1="336.60" x2="501.40" y2="336.60" stroke="#222" stroke-width="0.7"/>
<line x1="499.90" y1="389.10" x2="499.90" y2="390.90" stroke="#222" stroke-width="0.7"/>
<text x="499.90" y="400.80" font-size="6.0" text-anchor="middle" fill="#333">−</text>
<text x="499.90" y="409.60" font-size="6.0" text-anchor="middle" fill="#333">+</text>
<rect x="504.00" y="349.90" width="4.80" height="39.20" fill="#a8be86"/>
<line x1="506.40" y1="344.30" x2="506.40" y2="349.90" stroke="#222" stroke-width="0.7"/>
<line x1="504.90" y1="344.30" x2="507.90" y2="344.30" stroke="#222" stroke-width="0.7"/>
<line x1="506.40" y1="389.10" x2="506.40" y2="390.90" stroke="#222" stroke-width="0.7"/>
<text x="506.40" y="400.80" font-size="6.0" text-anchor="middle" fill="#333">+</text>
<text x="506.40" y="409.60" font-size="6.0" text-anchor="middle" fill="#333">+</text>
<line x1="490.00" y1="413.80" x2="512.50" y2="413.80" stroke="#333" stroke-width="0.8"/>
<text x="501.60" y="421.80" font-size="6.2" text-anchor="middle" fill="#222">HD#2</text>
<line x1="500.00" y1="334.50" x2="508.80" y2="334.50" stroke="#222" stroke-width="0.8"/>
<text x="504.40" y="333.20" font-size="6.0" text-anchor="middle" fill="#222">*</text>
<text x="6.30" y="488.80" font-size="10.5" text-anchor="start" fill="#000" font-weight="bold" stroke="#000" stroke-width="0.3">F</text>
<line x1="59.30" y1="497.80" x2="59.30" y2="602.80" stroke="#222" stroke-width="1.1"/>
<line x1="56.70" y1="602.40" x2="59.30" y2="602.40" stroke="#222" stroke-width="1.1"/>
<text x="54.30" y="604.60" font-size="6.2" text-anchor="end" fill="#333">0</text>
<line x1="56.70" y1="568.25" x2="59.30" y2="568.25" stroke="#222" stroke-width="1.1"/>
<text x="54.30" y="570.45" font-size="6.2" text-anchor="end" fill="#333">50</text>
<line x1="56.70" y1="534.10" x2="59.30" y2="534.10" stroke="#222" stroke-width="1.1"/>
<text x="54.30" y="536.30" font-size="6.2" text-anchor="end" fill="#333">100</text>
<line x1="56.70" y1="499.95" x2="59.30" y2="499.95" stroke="#222" stroke-width="1.1"/>
<text x="54.30" y="502.15" font-size="6.2" text-anchor="end" fill="#333">150</text>
<line x1="58.90" y1="602.40" x2="214.50" y2="602.40" stroke="#222" stroke-width="1.1"/>
<text x="38.20" y="552.30" font-size="7.0" text-anchor="middle" fill="#333" font-weight="bold" transform="rotate(-90 38.2 552.3)" textLength="92" lengthAdjust="spacingAndGlyphs" stroke="#333" stroke-width="0.12">Cell viability (%) relative to control</text>
<rect x="62.50" y="491.30" width="74.50" height="2.60" fill="#c41e3a"/>
<rect x="142.50" y="491.30" width="75.50" height="2.60" fill="#1a4f8c"/>
<text x="99.4" y="488.6" font-size="6.0" text-anchor="middle" fill="#222">tumor (CD138<tspan font-size="3.8" dy="-2.2">+</tspan><tspan dy="2.2"> cells)</tspan></text>
<text x="180.00" y="488.60" font-size="6.0" text-anchor="middle" fill="#222">normal (PBMCs)</text>
<rect x="63.90" y="534.10" width="6.80" height="68.30" fill="#a8be86"/>
<line x1="67.30" y1="533.76" x2="67.30" y2="534.10" stroke="#222" stroke-width="0.7"/>
<line x1="65.70" y1="533.76" x2="68.90" y2="533.76" stroke="#222" stroke-width="0.7"/>
<line x1="67.30" y1="602.40" x2="67.30" y2="604.20" stroke="#222" stroke-width="0.7"/>
<text x="67.30" y="614.00" font-size="6.0" text-anchor="middle" fill="#333">−</text>
<text x="67.30" y="623.00" font-size="6.0" text-anchor="middle" fill="#333">−</text>
<text x="67.30" y="633.00" font-size="6.0" text-anchor="middle" fill="#333">−</text>
<rect x="72.90" y="528.64" width="6.80" height="73.76" fill="#a8be86"/>
<line x1="76.30" y1="527.95" x2="76.30" y2="528.64" stroke="#222" stroke-width="0.7"/>
<line x1="74.70" y1="527.95" x2="77.90" y2="527.95" stroke="#222" stroke-width="0.7"/>
<line x1="76.30" y1="602.40" x2="76.30" y2="604.20" stroke="#222" stroke-width="0.7"/>
<text x="76.30" y="614.00" font-size="6.0" text-anchor="middle" fill="#333">−</text>
<text x="76.30" y="623.00" font-size="6.0" text-anchor="middle" fill="#333">+</text>
<text x="76.30" y="633.00" font-size="6.0" text-anchor="middle" fill="#333">−</text>
<rect x="82.00" y="536.83" width="6.80" height="65.57" fill="#a8be86"/>
<line x1="85.40" y1="532.60" x2="85.40" y2="536.83" stroke="#222" stroke-width="0.7"/>
<line x1="83.80" y1="532.60" x2="87.00" y2="532.60" stroke="#222" stroke-width="0.7"/>
<line x1="85.40" y1="602.40" x2="85.40" y2="604.20" stroke="#222" stroke-width="0.7"/>
<text x="85.40" y="614.00" font-size="6.0" text-anchor="middle" fill="#333">−</text>
<text x="85.40" y="623.00" font-size="6.0" text-anchor="middle" fill="#333">−</text>
<text x="85.40" y="633.00" font-size="6.0" text-anchor="middle" fill="#333">+</text>
<rect x="94.60" y="564.83" width="6.80" height="37.57" fill="#a8be86"/>
<line x1="98.00" y1="560.60" x2="98.00" y2="564.83" stroke="#222" stroke-width="0.7"/>
<line x1="96.40" y1="560.60" x2="99.60" y2="560.60" stroke="#222" stroke-width="0.7"/>
<line x1="98.00" y1="602.40" x2="98.00" y2="604.20" stroke="#222" stroke-width="0.7"/>
<text x="98.00" y="614.00" font-size="6.0" text-anchor="middle" fill="#333">+</text>
<text x="98.00" y="623.00" font-size="6.0" text-anchor="middle" fill="#333">−</text>
<text x="98.00" y="633.00" font-size="6.0" text-anchor="middle" fill="#333">−</text>
<rect x="103.50" y="534.10" width="6.80" height="68.30" fill="#a8be86"/>
<line x1="106.90" y1="525.02" x2="106.90" y2="534.10" stroke="#222" stroke-width="0.7"/>
<line x1="105.30" y1="525.02" x2="108.50" y2="525.02" stroke="#222" stroke-width="0.7"/>
<line x1="106.90" y1="602.40" x2="106.90" y2="604.20" stroke="#222" stroke-width="0.7"/>
<text x="106.90" y="614.00" font-size="6.0" text-anchor="middle" fill="#333">+</text>
<text x="106.90" y="623.00" font-size="6.0" text-anchor="middle" fill="#333">+</text>
<text x="106.90" y="633.00" font-size="6.0" text-anchor="middle" fill="#333">−</text>
<rect x="112.30" y="562.10" width="6.80" height="40.30" fill="#a8be86"/>
<line x1="115.70" y1="561.56" x2="115.70" y2="562.10" stroke="#222" stroke-width="0.7"/>
<line x1="114.10" y1="561.56" x2="117.30" y2="561.56" stroke="#222" stroke-width="0.7"/>
<line x1="115.70" y1="602.40" x2="115.70" y2="604.20" stroke="#222" stroke-width="0.7"/>
<text x="115.70" y="614.00" font-size="6.0" text-anchor="middle" fill="#333">+</text>
<text x="115.70" y="623.00" font-size="6.0" text-anchor="middle" fill="#333">−</text>
<text x="115.70" y="633.00" font-size="6.0" text-anchor="middle" fill="#333">+</text>
<rect x="156.00" y="534.10" width="6.80" height="68.30" fill="#a8be86"/>
<line x1="159.40" y1="533.83" x2="159.40" y2="534.10" stroke="#222" stroke-width="0.7"/>
<line x1="157.80" y1="533.83" x2="161.00" y2="533.83" stroke="#222" stroke-width="0.7"/>
<line x1="159.40" y1="602.40" x2="159.40" y2="604.20" stroke="#222" stroke-width="0.7"/>
<text x="159.40" y="614.00" font-size="6.0" text-anchor="middle" fill="#333">−</text>
<text x="159.40" y="623.00" font-size="6.0" text-anchor="middle" fill="#333">−</text>
<text x="159.40" y="633.00" font-size="6.0" text-anchor="middle" fill="#333">−</text>
<rect x="165.00" y="534.51" width="6.80" height="67.89" fill="#a8be86"/>
<line x1="168.40" y1="529.59" x2="168.40" y2="534.51" stroke="#222" stroke-width="0.7"/>
<line x1="166.80" y1="529.59" x2="170.00" y2="529.59" stroke="#222" stroke-width="0.7"/>
<line x1="168.40" y1="602.40" x2="168.40" y2="604.20" stroke="#222" stroke-width="0.7"/>
<text x="168.40" y="614.00" font-size="6.0" text-anchor="middle" fill="#333">−</text>
<text x="168.40" y="623.00" font-size="6.0" text-anchor="middle" fill="#333">+</text>
<text x="168.40" y="633.00" font-size="6.0" text-anchor="middle" fill="#333">−</text>
<rect x="173.80" y="539.36" width="6.80" height="63.04" fill="#a8be86"/>
<line x1="177.20" y1="537.72" x2="177.20" y2="539.36" stroke="#222" stroke-width="0.7"/>
<line x1="175.60" y1="537.72" x2="178.80" y2="537.72" stroke="#222" stroke-width="0.7"/>
<line x1="177.20" y1="602.40" x2="177.20" y2="604.20" stroke="#222" stroke-width="0.7"/>
<text x="177.20" y="614.00" font-size="6.0" text-anchor="middle" fill="#333">−</text>
<text x="177.20" y="623.00" font-size="6.0" text-anchor="middle" fill="#333">−</text>
<text x="177.20" y="633.00" font-size="6.0" text-anchor="middle" fill="#333">+</text>
<rect x="186.00" y="534.51" width="6.80" height="67.89" fill="#a8be86"/>
<line x1="189.40" y1="530.96" x2="189.40" y2="534.51" stroke="#222" stroke-width="0.7"/>
<line x1="187.80" y1="530.96" x2="191.00" y2="530.96" stroke="#222" stroke-width="0.7"/>
<line x1="189.40" y1="602.40" x2="189.40" y2="604.20" stroke="#222" stroke-width="0.7"/>
<text x="189.40" y="614.00" font-size="6.0" text-anchor="middle" fill="#333">+</text>
<text x="189.40" y="623.00" font-size="6.0" text-anchor="middle" fill="#333">−</text>
<text x="189.40" y="633.00" font-size="6.0" text-anchor="middle" fill="#333">−</text>
<rect x="195.10" y="535.81" width="6.80" height="66.59" fill="#a8be86"/>
<line x1="198.50" y1="533.01" x2="198.50" y2="535.81" stroke="#222" stroke-width="0.7"/>
<line x1="196.90" y1="533.01" x2="200.10" y2="533.01" stroke="#222" stroke-width="0.7"/>
<line x1="198.50" y1="602.40" x2="198.50" y2="604.20" stroke="#222" stroke-width="0.7"/>
<text x="198.50" y="614.00" font-size="6.0" text-anchor="middle" fill="#333">+</text>
<text x="198.50" y="623.00" font-size="6.0" text-anchor="middle" fill="#333">+</text>
<text x="198.50" y="633.00" font-size="6.0" text-anchor="middle" fill="#333">−</text>
<rect x="204.40" y="544.35" width="6.80" height="58.05" fill="#a8be86"/>
<line x1="207.80" y1="542.91" x2="207.80" y2="544.35" stroke="#222" stroke-width="0.7"/>
<line x1="206.20" y1="542.91" x2="209.40" y2="542.91" stroke="#222" stroke-width="0.7"/>
<line x1="207.80" y1="602.40" x2="207.80" y2="604.20" stroke="#222" stroke-width="0.7"/>
<text x="207.80" y="614.00" font-size="6.0" text-anchor="middle" fill="#333">+</text>
<text x="207.80" y="623.00" font-size="6.0" text-anchor="middle" fill="#333">−</text>
<text x="207.80" y="633.00" font-size="6.0" text-anchor="middle" fill="#333">+</text>
<text x="53.80" y="614.20" font-size="6.0" text-anchor="end" fill="#222">FK866 10nM</text>
<text x="53.80" y="623.20" font-size="6.0" text-anchor="end" fill="#222">+ NA 1µM</text>
<text x="53.80" y="633.20" font-size="6.0" text-anchor="end" fill="#222">+ NA 1µM +2HNA</text>
<polyline points="106.90,525.40 106.90,517.20 115.70,517.20 115.70,558.70" stroke="#222" stroke-width="0.8" fill="none"/>
<text x="111.30" y="515.60" font-size="6.0" text-anchor="middle" fill="#222">**</text>
<polyline points="198.50,533.00 198.50,526.60 207.80,526.60 207.80,538.70" stroke="#222" stroke-width="0.8" fill="none"/>
<text x="203.10" y="524.40" font-size="6.0" text-anchor="middle" fill="#222">ns</text>
<text x="232.30" y="483.00" font-size="10.5" text-anchor="start" fill="#000" font-weight="bold" stroke="#000" stroke-width="0.3">G</text>
<line x1="261.10" y1="508.60" x2="261.10" y2="603.20" stroke="#222" stroke-width="1.0"/>
<line x1="258.50" y1="602.80" x2="261.10" y2="602.80" stroke="#222" stroke-width="1.1"/>
<text x="256.10" y="605.00" font-size="6.2" text-anchor="end" fill="#333">0</text>
<line x1="258.50" y1="587.40" x2="261.10" y2="587.40" stroke="#222" stroke-width="1.1"/>
<text x="256.10" y="589.60" font-size="6.2" text-anchor="end" fill="#333">20</text>
<line x1="258.50" y1="572.00" x2="261.10" y2="572.00" stroke="#222" stroke-width="1.1"/>
<text x="256.10" y="574.20" font-size="6.2" text-anchor="end" fill="#333">40</text>
<line x1="258.50" y1="556.60" x2="261.10" y2="556.60" stroke="#222" stroke-width="1.1"/>
<text x="256.10" y="558.80" font-size="6.2" text-anchor="end" fill="#333">60</text>
<line x1="258.50" y1="541.20" x2="261.10" y2="541.20" stroke="#222" stroke-width="1.1"/>
<text x="256.10" y="543.40" font-size="6.2" text-anchor="end" fill="#333">80</text>
<line x1="258.50" y1="525.80" x2="261.10" y2="525.80" stroke="#222" stroke-width="1.1"/>
<text x="256.10" y="528.00" font-size="6.2" text-anchor="end" fill="#333">100</text>
<line x1="258.50" y1="510.40" x2="261.10" y2="510.40" stroke="#222" stroke-width="1.1"/>
<text x="256.10" y="512.60" font-size="6.2" text-anchor="end" fill="#333">120</text>
<line x1="260.50" y1="602.80" x2="365.60" y2="602.80" stroke="#222" stroke-width="1.1"/>
<line x1="261.60" y1="602.80" x2="261.60" y2="605.00" stroke="#222" stroke-width="1.1"/>
<text x="261.60" y="612.60" font-size="6.4" text-anchor="middle" fill="#333">0</text>
<line x1="310.90" y1="602.80" x2="310.90" y2="605.00" stroke="#222" stroke-width="1.1"/>
<text x="310.90" y="612.60" font-size="6.4" text-anchor="middle" fill="#333">5</text>
<line x1="360.20" y1="602.80" x2="360.20" y2="605.00" stroke="#222" stroke-width="1.1"/>
<text x="360.20" y="612.60" font-size="6.4" text-anchor="middle" fill="#333">10</text>
<text x="311.30" y="624.40" font-size="7.6" text-anchor="middle" fill="#333" textLength="30" lengthAdjust="spacingAndGlyphs">FK866 [nM]</text>
<text x="312.20" y="482.30" font-size="7.8" text-anchor="middle" fill="#111">RPMI 8226</text>
<polyline points="261.60,531.19 264.56,544.28 271.46,572.00 291.18,580.85 360.20,584.32" stroke="#3aa84a" stroke-width="1.0" fill="none"/>
<circle cx="261.60" cy="531.19" r="0.9" fill="#222"/>
<circle cx="264.56" cy="544.28" r="0.9" fill="#222"/>
<circle cx="271.46" cy="572.00" r="0.9" fill="#222"/>
<circle cx="291.18" cy="580.85" r="0.9" fill="#222"/>
<circle cx="360.20" cy="584.32" r="0.9" fill="#222"/>
<polyline points="261.60,530.73 264.56,538.12 271.46,536.58 291.18,536.58 360.20,536.19" stroke="#b8283c" stroke-width="1.0" fill="none"/>
<circle cx="261.60" cy="530.73" r="0.9" fill="#222"/>
<circle cx="264.56" cy="538.12" r="0.9" fill="#222"/>
<circle cx="271.46" cy="536.58" r="0.9" fill="#222"/>
<circle cx="291.18" cy="536.58" r="0.9" fill="#222"/>
<circle cx="360.20" cy="536.19" r="0.9" fill="#222"/>
<polyline points="261.60,545.05 264.56,573.15 271.46,594.48 291.18,601.11 360.20,602.49" stroke="#f2c21f" stroke-width="1.0" fill="none"/>
<circle cx="261.60" cy="545.05" r="0.9" fill="#222"/>
<circle cx="264.56" cy="573.15" r="0.9" fill="#222"/>
<circle cx="271.46" cy="594.48" r="0.9" fill="#222"/>
<circle cx="291.18" cy="601.11" r="0.9" fill="#222"/>
<circle cx="360.20" cy="602.49" r="0.9" fill="#222"/>
<polyline points="261.60,556.60 264.56,573.54 271.46,592.79 291.18,598.95 360.20,600.49" stroke="#2c5fa8" stroke-width="1.0" fill="none"/>
<circle cx="261.60" cy="556.60" r="0.9" fill="#222"/>
<circle cx="264.56" cy="573.54" r="0.9" fill="#222"/>
<circle cx="271.46" cy="592.79" r="0.9" fill="#222"/>
<circle cx="291.18" cy="598.95" r="0.9" fill="#222"/>
<circle cx="360.20" cy="600.49" r="0.9" fill="#222"/>
<line x1="271.46" y1="535.04" x2="271.46" y2="538.12" stroke="#222" stroke-width="0.6"/>
<line x1="270.36" y1="535.04" x2="272.56" y2="535.04" stroke="#222" stroke-width="0.6"/>
<line x1="270.36" y1="538.12" x2="272.56" y2="538.12" stroke="#222" stroke-width="0.6"/>
<line x1="291.18" y1="534.65" x2="291.18" y2="538.50" stroke="#222" stroke-width="0.6"/>
<line x1="290.08" y1="534.65" x2="292.28" y2="534.65" stroke="#222" stroke-width="0.6"/>
<line x1="290.08" y1="538.50" x2="292.28" y2="538.50" stroke="#222" stroke-width="0.6"/>
<line x1="360.20" y1="532.34" x2="360.20" y2="540.04" stroke="#222" stroke-width="0.6"/>
<line x1="359.10" y1="532.34" x2="361.30" y2="532.34" stroke="#222" stroke-width="0.6"/>
<line x1="359.10" y1="540.04" x2="361.30" y2="540.04" stroke="#222" stroke-width="0.6"/>
<line x1="264.56" y1="571.23" x2="264.56" y2="575.85" stroke="#222" stroke-width="0.6"/>
<line x1="263.46" y1="571.23" x2="265.66" y2="571.23" stroke="#222" stroke-width="0.6"/>
<line x1="263.46" y1="575.85" x2="265.66" y2="575.85" stroke="#222" stroke-width="0.6"/>
<line x1="264.56" y1="541.97" x2="264.56" y2="546.59" stroke="#222" stroke-width="0.6"/>
<line x1="263.46" y1="541.97" x2="265.66" y2="541.97" stroke="#222" stroke-width="0.6"/>
<line x1="263.46" y1="546.59" x2="265.66" y2="546.59" stroke="#222" stroke-width="0.6"/>
<text x="270.60" y="570.10" font-size="5.6" text-anchor="start" fill="#222">****</text>
<text x="286.00" y="578.20" font-size="5.6" text-anchor="start" fill="#222">****</text>
<text x="270.60" y="589.80" font-size="5.6" text-anchor="start" fill="#222">****</text>
<text x="274.00" y="593.30" font-size="5.6" text-anchor="start" fill="#222">****</text>
<text x="288.60" y="594.90" font-size="5.6" text-anchor="start" fill="#222">****</text>
<text x="292.90" y="597.80" font-size="5.6" text-anchor="start" fill="#222">****</text>
<text x="355.50" y="581.80" font-size="5.6" text-anchor="start" fill="#222">****</text>
<text x="355.50" y="596.30" font-size="5.6" text-anchor="start" fill="#222">****</text>
<text x="358.00" y="600.00" font-size="5.6" text-anchor="start" fill="#222">****</text>
<line x1="309.30" y1="492.60" x2="319.40" y2="492.60" stroke="#3aa84a" stroke-width="1.0" stroke-opacity="0.7"/>
<circle cx="314.30" cy="492.60" r="0.75" fill="#222"/>
<text x="322.90" y="494.70" font-size="6.2" text-anchor="start" fill="#222">CTR</text>
<line x1="309.30" y1="502.40" x2="319.40" y2="502.40" stroke="#b8283c" stroke-width="1.0" stroke-opacity="0.7"/>
<circle cx="314.30" cy="502.40" r="0.75" fill="#222"/>
<text x="322.90" y="504.50" font-size="6.2" text-anchor="start" fill="#222">+ NA 2µM</text>
<line x1="309.30" y1="512.20" x2="319.40" y2="512.20" stroke="#f2c21f" stroke-width="1.0" stroke-opacity="0.7"/>
<circle cx="314.30" cy="512.20" r="0.75" fill="#222"/>
<text x="322.90" y="514.30" font-size="6.2" text-anchor="start" fill="#222">+ 2HNA 1mM</text>
<line x1="309.30" y1="522.00" x2="319.40" y2="522.00" stroke="#2c5fa8" stroke-width="1.0" stroke-opacity="0.7"/>
<circle cx="314.30" cy="522.00" r="0.75" fill="#222"/>
<text x="322.90" y="524.10" font-size="6.2" text-anchor="start" fill="#222">+ (NA+ 2HNA)</text>
<line x1="410.60" y1="508.60" x2="410.60" y2="603.20" stroke="#222" stroke-width="1.0"/>
<line x1="408.00" y1="602.80" x2="410.60" y2="602.80" stroke="#222" stroke-width="1.1"/>
<text x="405.60" y="605.00" font-size="6.2" text-anchor="end" fill="#333">0</text>
<line x1="408.00" y1="587.40" x2="410.60" y2="587.40" stroke="#222" stroke-width="1.1"/>
<text x="405.60" y="589.60" font-size="6.2" text-anchor="end" fill="#333">20</text>
<line x1="408.00" y1="572.00" x2="410.60" y2="572.00" stroke="#222" stroke-width="1.1"/>
<text x="405.60" y="574.20" font-size="6.2" text-anchor="end" fill="#333">40</text>
<line x1="408.00" y1="556.60" x2="410.60" y2="556.60" stroke="#222" stroke-width="1.1"/>
<text x="405.60" y="558.80" font-size="6.2" text-anchor="end" fill="#333">60</text>
<line x1="408.00" y1="541.20" x2="410.60" y2="541.20" stroke="#222" stroke-width="1.1"/>
<text x="405.60" y="543.40" font-size="6.2" text-anchor="end" fill="#333">80</text>
<line x1="408.00" y1="525.80" x2="410.60" y2="525.80" stroke="#222" stroke-width="1.1"/>
<text x="405.60" y="528.00" font-size="6.2" text-anchor="end" fill="#333">100</text>
<line x1="408.00" y1="510.40" x2="410.60" y2="510.40" stroke="#222" stroke-width="1.1"/>
<text x="405.60" y="512.60" font-size="6.2" text-anchor="end" fill="#333">120</text>
<line x1="410.00" y1="602.80" x2="511.40" y2="602.80" stroke="#222" stroke-width="1.1"/>
<line x1="411.10" y1="602.80" x2="411.10" y2="605.00" stroke="#222" stroke-width="1.1"/>
<text x="411.10" y="612.60" font-size="6.4" text-anchor="middle" fill="#333">0</text>
<line x1="460.40" y1="602.80" x2="460.40" y2="605.00" stroke="#222" stroke-width="1.1"/>
<text x="460.40" y="612.60" font-size="6.4" text-anchor="middle" fill="#333">5</text>
<line x1="509.70" y1="602.80" x2="509.70" y2="605.00" stroke="#222" stroke-width="1.1"/>
<text x="509.70" y="612.60" font-size="6.4" text-anchor="middle" fill="#333">10</text>
<text x="460.20" y="622.30" font-size="7.6" text-anchor="middle" fill="#333" textLength="30" lengthAdjust="spacingAndGlyphs">FK866 [nM]</text>
<text x="460.00" y="482.30" font-size="7.8" text-anchor="middle" fill="#111">MM1S</text>
<polyline points="411.10,525.03 414.06,530.42 420.96,538.89 440.68,575.08 509.70,582.78" stroke="#3aa84a" stroke-width="1.0" fill="none"/>
<circle cx="411.10" cy="525.03" r="0.9" fill="#222"/>
<circle cx="414.06" cy="530.42" r="0.9" fill="#222"/>
<circle cx="420.96" cy="538.89" r="0.9" fill="#222"/>
<circle cx="440.68" cy="575.08" r="0.9" fill="#222"/>
<circle cx="509.70" cy="582.78" r="0.9" fill="#222"/>
<polyline points="411.10,522.72 414.06,530.42 420.96,538.12 440.68,556.60 509.70,568.92" stroke="#b8283c" stroke-width="1.0" fill="none"/>
<circle cx="411.10" cy="522.72" r="0.9" fill="#222"/>
<circle cx="414.06" cy="530.42" r="0.9" fill="#222"/>
<circle cx="420.96" cy="538.12" r="0.9" fill="#222"/>
<circle cx="440.68" cy="556.60" r="0.9" fill="#222"/>
<circle cx="509.70" cy="568.92" r="0.9" fill="#222"/>
<polyline points="411.10,532.73 414.06,545.05 420.96,568.15 440.68,592.48 509.70,597.79" stroke="#f2c21f" stroke-width="1.0" fill="none"/>
<circle cx="411.10" cy="532.73" r="0.9" fill="#222"/>
<circle cx="414.06" cy="545.05" r="0.9" fill="#222"/>
<circle cx="420.96" cy="568.15" r="0.9" fill="#222"/>
<circle cx="440.68" cy="592.48" r="0.9" fill="#222"/>
<circle cx="509.70" cy="597.79" r="0.9" fill="#222"/>
<polyline points="411.10,532.73 414.06,541.20 420.96,564.30 440.68,583.55 509.70,585.09" stroke="#2c5fa8" stroke-width="1.0" fill="none"/>
<circle cx="411.10" cy="532.73" r="0.9" fill="#222"/>
<circle cx="414.06" cy="541.20" r="0.9" fill="#222"/>
<circle cx="420.96" cy="564.30" r="0.9" fill="#222"/>
<circle cx="440.68" cy="583.55" r="0.9" fill="#222"/>
<circle cx="509.70" cy="585.09" r="0.9" fill="#222"/>
<line x1="411.10" y1="518.10" x2="411.10" y2="527.34" stroke="#222" stroke-width="0.6"/>
<line x1="410.00" y1="518.10" x2="412.20" y2="518.10" stroke="#222" stroke-width="0.6"/>
<line x1="410.00" y1="527.34" x2="412.20" y2="527.34" stroke="#222" stroke-width="0.6"/>
<line x1="420.96" y1="535.81" x2="420.96" y2="540.43" stroke="#222" stroke-width="0.6"/>
<line x1="419.86" y1="535.81" x2="422.06" y2="535.81" stroke="#222" stroke-width="0.6"/>
<line x1="419.86" y1="540.43" x2="422.06" y2="540.43" stroke="#222" stroke-width="0.6"/>
<line x1="440.68" y1="555.06" x2="440.68" y2="558.14" stroke="#222" stroke-width="0.6"/>
<line x1="439.58" y1="555.06" x2="441.78" y2="555.06" stroke="#222" stroke-width="0.6"/>
<line x1="439.58" y1="558.14" x2="441.78" y2="558.14" stroke="#222" stroke-width="0.6"/>
<line x1="509.70" y1="567.38" x2="509.70" y2="570.46" stroke="#222" stroke-width="0.6"/>
<line x1="508.60" y1="567.38" x2="510.80" y2="567.38" stroke="#222" stroke-width="0.6"/>
<line x1="508.60" y1="570.46" x2="510.80" y2="570.46" stroke="#222" stroke-width="0.6"/>
<line x1="509.70" y1="581.24" x2="509.70" y2="584.32" stroke="#222" stroke-width="0.6"/>
<line x1="508.60" y1="581.24" x2="510.80" y2="581.24" stroke="#222" stroke-width="0.6"/>
<line x1="508.60" y1="584.32" x2="510.80" y2="584.32" stroke="#222" stroke-width="0.6"/>
<line x1="414.06" y1="528.88" x2="414.06" y2="531.96" stroke="#222" stroke-width="0.6"/>
<line x1="412.96" y1="528.88" x2="415.16" y2="528.88" stroke="#222" stroke-width="0.6"/>
<line x1="412.96" y1="531.96" x2="415.16" y2="531.96" stroke="#222" stroke-width="0.6"/>
<text x="435.00" y="553.30" font-size="5.6" text-anchor="start" fill="#222">****</text>
<text x="419.70" y="559.80" font-size="5.6" text-anchor="start" fill="#222">****</text>
<text x="413.70" y="575.20" font-size="5.6" text-anchor="start" fill="#222">***</text>
<text x="440.30" y="588.90" font-size="5.6" text-anchor="start" fill="#222">****</text>
<text x="439.50" y="598.70" font-size="5.6" text-anchor="start" fill="#222">***</text>
<text x="505.60" y="566.80" font-size="5.6" text-anchor="start" fill="#222">***</text>
<text x="505.60" y="602.90" font-size="5.6" text-anchor="start" fill="#222">***</text>
<line x1="458.00" y1="492.60" x2="468.10" y2="492.60" stroke="#3aa84a" stroke-width="1.0" stroke-opacity="0.7"/>
<circle cx="463.00" cy="492.60" r="0.75" fill="#222"/>
<text x="471.60" y="494.70" font-size="6.2" text-anchor="start" fill="#222">CTR</text>
<line x1="458.00" y1="502.40" x2="468.10" y2="502.40" stroke="#b8283c" stroke-width="1.0" stroke-opacity="0.7"/>
<circle cx="463.00" cy="502.40" r="0.75" fill="#222"/>
<text x="471.60" y="504.50" font-size="6.2" text-anchor="start" fill="#222">+ NA 2µM</text>
<line x1="458.00" y1="512.20" x2="468.10" y2="512.20" stroke="#f2c21f" stroke-width="1.0" stroke-opacity="0.7"/>
<circle cx="463.00" cy="512.20" r="0.75" fill="#222"/>
<text x="471.60" y="514.30" font-size="6.2" text-anchor="start" fill="#222">+ 2HNA 1mM</text>
<line x1="458.00" y1="522.00" x2="468.10" y2="522.00" stroke="#2c5fa8" stroke-width="1.0" stroke-opacity="0.7"/>
<circle cx="463.00" cy="522.00" r="0.75" fill="#222"/>
<text x="471.60" y="524.10" font-size="6.2" text-anchor="start" fill="#222">+ (NA+ 2HNA)</text>
<text x="417.00" y="547.60" font-size="6.0" text-anchor="start" fill="#333">ns</text>
<text x="504.00" y="591.00" font-size="6.0" text-anchor="start" fill="#333">ns</text>
<text x="239.20" y="556.20" font-size="6.8" text-anchor="middle" fill="#333" font-weight="bold" transform="rotate(-90 239.2 556.2)" textLength="52" lengthAdjust="spacingAndGlyphs" stroke="#333" stroke-width="0.12">Specific viability (%)</text>
<text x="389.40" y="556.60" font-size="6.8" text-anchor="middle" fill="#333" font-weight="bold" transform="rotate(-90 389.4 556.6)" textLength="51.5" lengthAdjust="spacingAndGlyphs" stroke="#333" stroke-width="0.12">Specific viability (%)</text>
<rect x="0" y="0" width="520" height="1" fill="#4d4d4d"/><rect x="0" y="0" width="1" height="641" fill="#4d4d4d"/><rect x="519" y="0" width="1" height="641" fill="#4d4d4d"/><rect x="0" y="640" width="520" height="1" fill="#4d4d4d"/>
</svg>
</body></html>
